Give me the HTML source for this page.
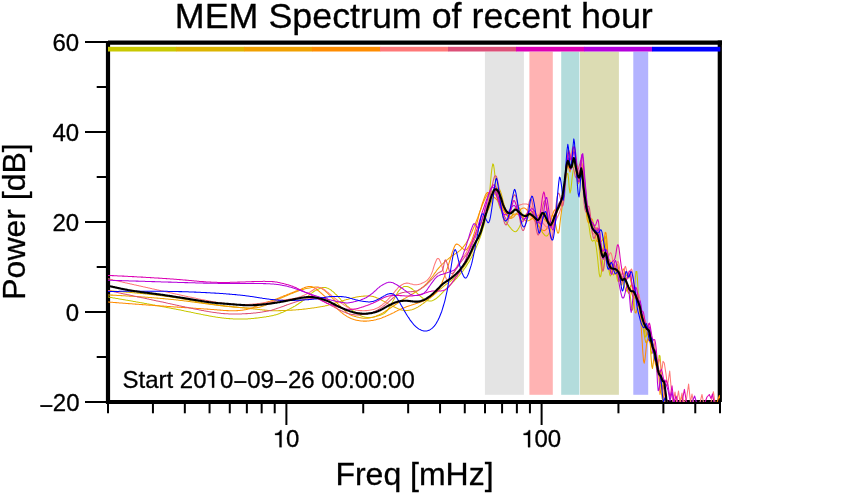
<!DOCTYPE html>
<html><head><meta charset="utf-8"><title>MEM Spectrum of recent hour</title>
<style>
html,body{margin:0;padding:0;background:#fff;}
body{width:842px;height:500px;overflow:hidden;font-family:"Liberation Sans",sans-serif;}
svg{display:block;will-change:transform;}
text{font-family:"Liberation Sans",sans-serif;fill:#000;stroke:#000;stroke-width:0.3px;}
</style></head><body>
<svg width="842" height="500" viewBox="0 0 842 500">
<rect x="0" y="0" width="842" height="500" fill="#fff"/>
<defs><clipPath id="cp"><rect x="108" y="42" width="612" height="360"/></clipPath></defs>
<g><rect x="484.90" y="51.6" width="39.00" height="343.2" fill="#e4e4e4"/><rect x="529.40" y="51.6" width="23.40" height="343.2" fill="#ffb3b3"/><rect x="561.20" y="51.6" width="18.20" height="343.2" fill="#b3dcdc"/><rect x="580.00" y="51.6" width="38.90" height="343.2" fill="#dcdcb3"/><rect x="633.30" y="51.6" width="14.90" height="343.2" fill="#b3b3ff"/></g>
<g stroke="#000" stroke-width="4.2" fill="none"><line x1="108" y1="41.2" x2="108" y2="403.9"/><line x1="108" y1="42.6" x2="722" y2="42.6"/><line x1="719.8" y1="40.5" x2="719.8" y2="402"/><line x1="108" y1="402" x2="720" y2="402" stroke-width="4"/></g>
<g stroke="#000" stroke-width="2" fill="none"><line x1="85.0" y1="402.00" x2="108" y2="402.00"/><line x1="96.7" y1="357.00" x2="108" y2="357.00"/><line x1="85.0" y1="312.00" x2="108" y2="312.00"/><line x1="96.7" y1="267.00" x2="108" y2="267.00"/><line x1="85.0" y1="222.00" x2="108" y2="222.00"/><line x1="96.7" y1="177.00" x2="108" y2="177.00"/><line x1="85.0" y1="132.00" x2="108" y2="132.00"/><line x1="96.7" y1="87.00" x2="108" y2="87.00"/><line x1="85.0" y1="42.00" x2="108" y2="42.00"/><line x1="108.00" y1="402" x2="108.00" y2="413.3"/><line x1="152.94" y1="402" x2="152.94" y2="413.3"/><line x1="184.83" y1="402" x2="184.83" y2="413.3"/><line x1="209.56" y1="402" x2="209.56" y2="413.3"/><line x1="229.77" y1="402" x2="229.77" y2="413.3"/><line x1="246.86" y1="402" x2="246.86" y2="413.3"/><line x1="261.66" y1="402" x2="261.66" y2="413.3"/><line x1="274.71" y1="402" x2="274.71" y2="413.3"/><line x1="286.39" y1="402" x2="286.39" y2="425.0"/><line x1="363.22" y1="402" x2="363.22" y2="413.3"/><line x1="408.16" y1="402" x2="408.16" y2="413.3"/><line x1="440.05" y1="402" x2="440.05" y2="413.3"/><line x1="464.78" y1="402" x2="464.78" y2="413.3"/><line x1="484.99" y1="402" x2="484.99" y2="413.3"/><line x1="502.08" y1="402" x2="502.08" y2="413.3"/><line x1="516.88" y1="402" x2="516.88" y2="413.3"/><line x1="529.93" y1="402" x2="529.93" y2="413.3"/><line x1="541.61" y1="402" x2="541.61" y2="425.0"/><line x1="618.44" y1="402" x2="618.44" y2="413.3"/><line x1="663.38" y1="402" x2="663.38" y2="413.3"/><line x1="695.27" y1="402" x2="695.27" y2="413.3"/><line x1="720.00" y1="402" x2="720.00" y2="413.3"/></g>
<g><rect x="108.00" y="46.8" width="68.30" height="4.7" fill="#c8c800"/><rect x="176.00" y="46.8" width="68.30" height="4.7" fill="#dcb400"/><rect x="244.00" y="46.8" width="68.30" height="4.7" fill="#f0a000"/><rect x="312.00" y="46.8" width="68.30" height="4.7" fill="#ff8c00"/><rect x="380.00" y="46.8" width="68.30" height="4.7" fill="#ff7878"/><rect x="448.00" y="46.8" width="68.30" height="4.7" fill="#dc5078"/><rect x="516.00" y="46.8" width="68.30" height="4.7" fill="#dc00b4"/><rect x="584.00" y="46.8" width="68.30" height="4.7" fill="#b400dc"/><rect x="652.00" y="46.8" width="68.30" height="4.7" fill="#0000ff"/></g>
<g clip-path="url(#cp)" fill="none" stroke-linejoin="round" stroke-linecap="round">
<path d="M108.0 297.0L108.8 297.1L109.5 297.3L110.2 297.4L111.0 297.5L111.8 297.6L112.5 297.8L113.2 297.9L114.0 298.0L114.8 298.1L115.5 298.3L116.2 298.4L117.0 298.5L117.8 298.6L118.5 298.8L119.2 298.9L120.0 299.0L120.8 299.2L121.5 299.3L122.2 299.4L123.0 299.5L123.8 299.7L124.5 299.8L125.2 299.9L126.0 300.1L126.8 300.2L127.5 300.3L128.2 300.5L129.0 300.6L129.8 300.7L130.5 300.8L131.2 301.0L132.0 301.1L132.8 301.2L133.5 301.4L134.2 301.5L135.0 301.6L135.8 301.8L136.5 301.9L137.2 302.0L138.0 302.2L138.8 302.3L139.5 302.4L140.2 302.6L141.0 302.7L141.8 302.8L142.5 303.0L143.2 303.1L144.0 303.2L144.8 303.4L145.5 303.5L146.2 303.6L147.0 303.8L147.8 303.9L148.5 304.0L149.2 304.2L150.0 304.3L150.8 304.4L151.5 304.6L152.2 304.7L153.0 304.9L153.8 305.0L154.5 305.1L155.2 305.3L156.0 305.4L156.8 305.6L157.5 305.7L158.2 305.8L159.0 306.0L159.8 306.1L160.5 306.2L161.2 306.4L162.0 306.5L162.8 306.7L163.5 306.8L164.2 307.0L165.0 307.1L165.8 307.2L166.5 307.4L167.2 307.5L168.0 307.7L168.8 307.8L169.5 307.9L170.2 308.1L171.0 308.2L171.8 308.4L172.5 308.5L173.2 308.7L174.0 308.8L174.8 309.0L175.5 309.1L176.2 309.2L177.0 309.4L177.8 309.5L178.5 309.7L179.2 309.8L180.0 310.0L180.8 310.1L181.5 310.3L182.2 310.4L183.0 310.6L183.8 310.8L184.5 310.9L185.2 311.1L186.0 311.2L186.8 311.4L187.5 311.5L188.2 311.7L189.0 311.8L189.8 312.0L190.5 312.1L191.2 312.3L192.0 312.5L192.8 312.6L193.5 312.8L194.2 312.9L195.0 313.1L195.8 313.2L196.5 313.4L197.2 313.5L198.0 313.7L198.8 313.8L199.5 314.0L200.2 314.1L201.0 314.3L201.8 314.4L202.5 314.6L203.2 314.7L204.0 314.9L204.8 315.0L205.5 315.2L206.2 315.3L207.0 315.5L207.8 315.6L208.5 315.7L209.2 315.9L210.0 316.0L210.8 316.2L211.5 316.3L212.2 316.4L213.0 316.6L213.8 316.7L214.5 316.8L215.2 316.9L216.0 317.1L216.8 317.2L217.5 317.3L218.2 317.4L219.0 317.5L219.8 317.6L220.5 317.7L221.2 317.8L222.0 317.9L222.8 318.0L223.5 318.1L224.2 318.2L225.0 318.3L225.8 318.3L226.5 318.4L227.2 318.5L228.0 318.5L228.8 318.6L229.5 318.6L230.2 318.7L231.0 318.7L231.8 318.8L232.5 318.8L233.2 318.9L234.0 318.9L234.8 318.9L235.5 319.0L236.2 319.0L237.0 319.0L237.8 319.0L238.5 319.0L239.2 319.0L240.0 319.0L240.8 319.0L241.5 319.0L242.2 319.0L243.0 319.0L243.8 319.0L244.5 319.0L245.2 318.9L246.0 318.9L246.8 318.9L247.5 318.9L248.2 318.8L249.0 318.8L249.8 318.7L250.5 318.7L251.2 318.6L252.0 318.5L252.8 318.5L253.5 318.4L254.2 318.3L255.0 318.2L255.8 318.1L256.5 318.1L257.2 318.0L258.0 317.9L258.8 317.8L259.5 317.7L260.2 317.6L261.0 317.5L261.8 317.4L262.5 317.3L263.2 317.2L264.0 317.1L264.8 317.0L265.5 316.9L266.2 316.8L267.0 316.6L267.8 316.5L268.5 316.4L269.2 316.3L270.0 316.1L270.8 316.0L271.5 315.8L272.2 315.7L273.0 315.5L273.8 315.3L274.5 315.1L275.2 314.9L276.0 314.7L276.8 314.5L277.5 314.2L278.2 314.0L279.0 313.7L279.8 313.4L280.5 313.1L281.2 312.8L282.0 312.5L282.8 312.2L283.5 311.9L284.2 311.5L285.0 311.2L285.8 310.8L286.5 310.5L287.2 310.1L288.0 309.7L288.8 309.4L289.5 309.0L290.2 308.6L291.0 308.2L291.8 307.8L292.5 307.4L293.2 307.0L294.0 306.5L294.8 306.1L295.5 305.7L296.2 305.2L297.0 304.7L297.8 304.3L298.5 303.8L299.2 303.3L300.0 302.8L300.8 302.3L301.5 301.7L302.2 301.2L303.0 300.6L303.8 300.0L304.5 299.4L305.2 298.7L306.0 298.1L306.8 297.4L307.5 296.7L308.2 296.0L309.0 295.3L309.8 294.7L310.5 294.1L311.2 293.4L312.0 292.9L312.8 292.3L313.5 291.8L314.2 291.3L315.0 290.8L315.8 290.4L316.5 290.0L317.2 289.6L318.0 289.3L318.8 288.9L319.5 288.6L320.2 288.3L321.0 288.0L321.8 287.8L322.5 287.6L323.2 287.5L324.0 287.5L324.8 287.5L325.5 287.6L326.2 287.7L327.0 288.0L327.8 288.2L328.5 288.6L329.2 289.0L330.0 289.4L330.8 289.9L331.5 290.5L332.2 291.1L333.0 291.7L333.8 292.4L334.5 293.0L335.2 293.8L336.0 294.5L336.8 295.2L337.5 296.0L338.2 296.8L339.0 297.6L339.8 298.4L340.5 299.3L341.2 300.1L342.0 300.9L342.8 301.7L343.5 302.5L344.2 303.2L345.0 304.0L345.8 304.7L346.5 305.4L347.2 306.1L348.0 306.7L348.8 307.4L349.5 308.0L350.2 308.6L351.0 309.2L351.8 309.8L352.5 310.4L353.2 311.0L354.0 311.5L354.8 312.1L355.5 312.6L356.2 313.1L357.0 313.6L357.8 314.1L358.5 314.5L359.2 314.9L360.0 315.3L360.8 315.7L361.5 316.0L362.2 316.3L363.0 316.6L363.8 316.8L364.5 317.0L365.2 317.2L366.0 317.3L366.8 317.4L367.5 317.5L368.2 317.5L369.0 317.5L369.8 317.5L370.5 317.5L371.2 317.4L372.0 317.3L372.8 317.2L373.5 317.1L374.2 316.9L375.0 316.7L375.8 316.5L376.5 316.3L377.2 316.1L378.0 315.9L378.8 315.6L379.5 315.4L380.2 315.2L381.0 314.9L381.8 314.6L382.5 314.3L383.2 314.0L384.0 313.6L384.8 313.0L385.5 312.4L386.2 311.7L387.0 310.9L387.8 309.9L388.5 308.8L389.2 307.6L390.0 306.4L390.8 305.1L391.5 303.7L392.2 302.4L393.0 301.0L393.8 299.6L394.5 298.2L395.2 296.8L396.0 295.4L396.8 294.1L397.5 292.8L398.2 291.6L399.0 290.5L399.8 289.6L400.5 288.8L401.2 288.1L402.0 287.5L402.8 287.1L403.5 286.7L404.2 286.5L405.0 286.4L405.8 286.4L406.5 286.5L407.2 286.6L408.0 286.8L408.8 287.1L409.5 287.4L410.2 287.8L411.0 288.2L411.8 288.7L412.5 289.2L413.2 289.8L414.0 290.4L414.8 291.0L415.5 291.7L416.2 292.4L417.0 293.1L417.8 293.8L418.5 294.5L419.2 295.2L420.0 295.9L420.8 296.6L421.5 297.2L422.2 297.8L423.0 298.3L423.8 298.9L424.5 299.3L425.2 299.7L426.0 300.1L426.8 300.4L427.5 300.7L428.2 300.8L429.0 301.0L429.8 301.0L430.5 301.0L431.2 300.9L432.0 300.7L432.8 300.4L433.5 300.1L434.2 299.8L435.0 299.3L435.8 298.8L436.5 298.3L437.2 297.7L438.0 297.0L438.8 296.3L439.5 295.6L440.2 294.8L441.0 294.1L441.8 293.3L442.5 292.6L443.2 291.8L444.0 291.0L444.8 290.3L445.5 289.5L446.2 288.7L447.0 288.0L447.8 287.2L448.5 286.5L449.2 285.7L450.0 285.0L450.8 284.2L451.5 283.5L452.2 282.8L453.0 282.0L453.8 281.3L454.5 280.5L455.2 279.7L456.0 278.9L456.8 278.1L457.5 277.3L458.2 276.4L459.0 275.6L459.8 274.7L460.5 273.8L461.2 272.9L462.0 272.0L462.8 271.1L463.5 270.1L464.2 269.0L465.0 268.0L465.8 266.9L466.5 265.7L467.2 264.6L468.0 263.3L468.8 262.1L469.5 260.9L470.2 259.6L471.0 258.2L471.8 256.8L472.5 255.3L473.2 253.8L474.0 252.2L474.8 250.6L475.5 248.9L476.2 247.2L477.0 245.4L477.8 243.6L478.5 241.8L479.2 239.8L480.0 237.7L480.8 235.5L481.5 233.2L482.2 230.8L483.0 228.4L483.8 225.9L484.5 223.2L485.2 220.2L486.0 216.7L486.8 212.8L487.5 208.3L488.2 203.2L489.0 197.4L489.8 190.4L490.5 182.4L491.2 174.6L492.0 168.0L492.8 163.9L493.5 164.6L494.2 169.2L495.0 175.9L495.8 184.0L496.5 191.9L497.2 197.6L498.0 201.6L498.8 204.5L499.5 206.7L500.2 208.6L501.0 210.5L501.8 212.4L502.5 214.4L503.2 216.2L504.0 217.9L504.8 219.5L505.5 220.9L506.2 222.2L507.0 223.3L507.8 224.4L508.5 225.4L509.2 226.4L510.0 227.3L510.8 228.2L511.5 229.1L512.2 229.9L513.0 230.6L513.8 231.2L514.5 231.6L515.2 231.7L516.0 231.5L516.8 231.0L517.5 230.1L518.2 229.0L519.0 227.7L519.8 226.2L520.5 224.5L521.2 222.5L522.0 220.5L522.8 218.5L523.5 216.9L524.2 215.6L525.0 214.8L525.8 214.2L526.5 214.0L527.2 213.9L528.0 214.0L528.8 214.2L529.5 214.4L530.2 214.8L531.0 215.2L531.8 215.7L532.5 216.3L533.2 217.1L534.0 218.0L534.8 219.0L535.5 220.2L536.2 221.4L537.0 222.7L537.8 224.0L538.5 225.3L539.2 226.7L540.0 228.0L540.8 229.3L541.5 230.7L542.2 231.9L543.0 233.1L543.8 234.1L544.5 235.0L545.2 235.6L546.0 236.0L546.8 236.0L547.5 235.5L548.2 234.5L549.0 233.3L549.8 231.7L550.5 229.9L551.2 228.0L552.0 226.0L552.8 223.9L553.5 221.7L554.2 219.5L555.0 217.3L555.8 215.2L556.5 213.2L557.2 211.5L558.0 210.1L558.8 208.8L559.5 207.6L560.2 206.0L561.0 204.0L561.8 201.3L562.5 197.9L563.2 194.1L564.0 190.0L564.8 185.6L565.5 181.0L566.2 176.6L567.0 173.7L567.8 173.4L568.5 177.9L569.2 187.6L570.0 193.0L570.8 190.3L571.5 184.1L572.2 177.0L573.0 171.5L573.8 167.4L574.5 165.2L575.2 165.4L576.0 169.2L576.8 174.7L577.5 179.5L578.2 181.1L579.0 178.9L579.8 175.2L580.5 172.3L581.2 172.5L582.0 175.9L582.8 182.0L583.5 189.9L584.0 196.0L585.0 202.7L585.8 207.0L586.5 211.1L587.2 215.0L588.0 219.3L588.8 224.3L589.5 229.5L590.2 234.4L591.0 238.2L591.8 240.5L592.5 241.2L593.2 240.8L594.0 240.1L594.8 240.3L595.5 242.4L596.2 246.8L597.0 252.9L597.8 260.2L598.5 267.5L599.2 273.8L600.0 276.9L600.8 276.1L601.5 271.9L602.2 265.0L603.0 256.6L603.8 247.5L604.5 239.6L605.2 236.1L606.0 238.8L606.8 246.0L607.5 255.3L608.2 264.0L609.0 270.8L609.8 274.9L610.5 276.0L611.2 274.4L612.0 271.1L612.8 267.5L613.5 264.9L614.2 264.5L615.0 266.4L615.8 270.3L616.5 275.0L617.2 279.1L618.0 281.4L618.8 281.5L619.5 279.8L620.2 277.7L621.0 276.2L621.8 276.1L622.5 277.6L623.2 280.3L624.0 284.0L624.8 287.6L625.5 290.4L626.2 291.1L627.0 289.9L627.8 288.0L628.5 287.1L629.2 288.8L630.0 293.7L630.8 300.5L631.5 307.0L632.2 310.3L633.0 308.8L633.8 302.0L634.5 291.2L635.2 279.4L636.0 271.4L636.8 271.4L637.5 279.9L638.2 293.0L639.0 304.9L639.8 312.0L640.5 314.1L641.2 314.1L642.0 314.3L642.8 316.8L643.5 322.3L644.2 329.2L645.0 335.0L645.8 337.3L646.5 335.5L647.2 331.4L648.0 327.5L648.8 327.5L649.5 332.9L650.2 342.0L651.0 350.1L651.8 353.8L652.5 352.8L653.2 349.6L654.0 347.6L654.8 350.4L655.5 358.1L656.2 366.9L657.0 371.7L657.8 369.7L658.5 362.1L659.2 355.3L660.0 356.0L660.8 365.2L661.5 378.1L662.2 387.6L663.0 389.2L663.8 384.6L664.5 382.3L665.2 386.9L666.0 398.4L666.8 410.2L667.5 419.1L668.2 422.6L669.0 422.7L669.8 424.4L670.5 431.4L671.2 442.9L672.0 454.2" stroke="#c8c800" stroke-width="1.05"/>
<path d="M108.0 290.7L108.8 290.8L109.5 290.8L110.2 290.9L111.0 290.9L111.8 291.0L112.5 291.0L113.2 291.1L114.0 291.1L114.8 291.2L115.5 291.2L116.2 291.3L117.0 291.4L117.8 291.4L118.5 291.5L119.2 291.5L120.0 291.6L120.8 291.6L121.5 291.7L122.2 291.8L123.0 291.8L123.8 291.9L124.5 291.9L125.2 292.0L126.0 292.1L126.8 292.1L127.5 292.2L128.2 292.3L129.0 292.3L129.8 292.4L130.5 292.5L131.2 292.5L132.0 292.6L132.8 292.7L133.5 292.7L134.2 292.8L135.0 292.9L135.8 292.9L136.5 293.0L137.2 293.1L138.0 293.1L138.8 293.2L139.5 293.3L140.2 293.4L141.0 293.4L141.8 293.5L142.5 293.6L143.2 293.7L144.0 293.7L144.8 293.8L145.5 293.9L146.2 294.0L147.0 294.1L147.8 294.1L148.5 294.2L149.2 294.3L150.0 294.4L150.8 294.5L151.5 294.5L152.2 294.6L153.0 294.7L153.8 294.8L154.5 294.9L155.2 295.0L156.0 295.1L156.8 295.2L157.5 295.3L158.2 295.3L159.0 295.4L159.8 295.5L160.5 295.6L161.2 295.7L162.0 295.8L162.8 295.9L163.5 296.0L164.2 296.1L165.0 296.2L165.8 296.3L166.5 296.4L167.2 296.5L168.0 296.6L168.8 296.7L169.5 296.8L170.2 296.9L171.0 297.1L171.8 297.2L172.5 297.3L173.2 297.4L174.0 297.5L174.8 297.6L175.5 297.7L176.2 297.8L177.0 298.0L177.8 298.1L178.5 298.2L179.2 298.3L180.0 298.5L180.8 298.6L181.5 298.7L182.2 298.9L183.0 299.0L183.8 299.1L184.5 299.3L185.2 299.4L186.0 299.5L186.8 299.7L187.5 299.8L188.2 300.0L189.0 300.1L189.8 300.3L190.5 300.4L191.2 300.6L192.0 300.7L192.8 300.9L193.5 301.0L194.2 301.1L195.0 301.3L195.8 301.4L196.5 301.6L197.2 301.7L198.0 301.9L198.8 302.0L199.5 302.2L200.2 302.3L201.0 302.4L201.8 302.6L202.5 302.7L203.2 302.9L204.0 303.0L204.8 303.1L205.5 303.3L206.2 303.4L207.0 303.5L207.8 303.6L208.5 303.8L209.2 303.9L210.0 304.0L210.8 304.1L211.5 304.2L212.2 304.3L213.0 304.4L213.8 304.5L214.5 304.6L215.2 304.7L216.0 304.8L216.8 304.9L217.5 305.0L218.2 305.1L219.0 305.2L219.8 305.3L220.5 305.4L221.2 305.4L222.0 305.5L222.8 305.6L223.5 305.7L224.2 305.8L225.0 305.9L225.8 305.9L226.5 306.0L227.2 306.1L228.0 306.2L228.8 306.3L229.5 306.3L230.2 306.4L231.0 306.5L231.8 306.6L232.5 306.7L233.2 306.7L234.0 306.8L234.8 306.9L235.5 307.0L236.2 307.0L237.0 307.1L237.8 307.2L238.5 307.3L239.2 307.4L240.0 307.4L240.8 307.5L241.5 307.6L242.2 307.7L243.0 307.7L243.8 307.8L244.5 307.9L245.2 308.0L246.0 308.1L246.8 308.1L247.5 308.2L248.2 308.3L249.0 308.4L249.8 308.5L250.5 308.6L251.2 308.6L252.0 308.7L252.8 308.8L253.5 308.9L254.2 309.0L255.0 309.1L255.8 309.2L256.5 309.2L257.2 309.3L258.0 309.4L258.8 309.5L259.5 309.6L260.2 309.7L261.0 309.8L261.8 309.8L262.5 309.9L263.2 310.0L264.0 310.1L264.8 310.1L265.5 310.2L266.2 310.3L267.0 310.3L267.8 310.4L268.5 310.5L269.2 310.5L270.0 310.6L270.8 310.6L271.5 310.6L272.2 310.7L273.0 310.7L273.8 310.7L274.5 310.7L275.2 310.7L276.0 310.7L276.8 310.7L277.5 310.7L278.2 310.7L279.0 310.6L279.8 310.6L280.5 310.6L281.2 310.6L282.0 310.5L282.8 310.5L283.5 310.5L284.2 310.5L285.0 310.4L285.8 310.4L286.5 310.4L287.2 310.3L288.0 310.3L288.8 310.3L289.5 310.2L290.2 310.2L291.0 310.2L291.8 310.1L292.5 310.1L293.2 310.0L294.0 310.0L294.8 309.9L295.5 309.9L296.2 309.8L297.0 309.8L297.8 309.7L298.5 309.6L299.2 309.6L300.0 309.5L300.8 309.4L301.5 309.4L302.2 309.3L303.0 309.2L303.8 309.1L304.5 309.1L305.2 309.0L306.0 308.9L306.8 308.8L307.5 308.7L308.2 308.6L309.0 308.5L309.8 308.4L310.5 308.3L311.2 308.2L312.0 308.1L312.8 308.0L313.5 307.9L314.2 307.8L315.0 307.7L315.8 307.6L316.5 307.4L317.2 307.3L318.0 307.2L318.8 307.1L319.5 307.0L320.2 306.8L321.0 306.7L321.8 306.6L322.5 306.4L323.2 306.3L324.0 306.2L324.8 306.0L325.5 305.8L326.2 305.7L327.0 305.5L327.8 305.3L328.5 305.0L329.2 304.8L330.0 304.6L330.8 304.4L331.5 304.2L332.2 303.9L333.0 303.7L333.8 303.5L334.5 303.2L335.2 303.0L336.0 302.8L336.8 302.5L337.5 302.3L338.2 302.1L339.0 301.8L339.8 301.6L340.5 301.4L341.2 301.2L342.0 300.9L342.8 300.7L343.5 300.5L344.2 300.3L345.0 300.0L345.8 299.8L346.5 299.6L347.2 299.4L348.0 299.2L348.8 298.9L349.5 298.7L350.2 298.5L351.0 298.3L351.8 298.2L352.5 298.0L353.2 297.8L354.0 297.6L354.8 297.5L355.5 297.3L356.2 297.1L357.0 297.0L357.8 296.8L358.5 296.7L359.2 296.6L360.0 296.5L360.8 296.4L361.5 296.3L362.2 296.2L363.0 296.2L363.8 296.1L364.5 296.1L365.2 296.0L366.0 296.0L366.8 296.0L367.5 296.0L368.2 296.0L369.0 296.0L369.8 296.0L370.5 296.1L371.2 296.2L372.0 296.3L372.8 296.5L373.5 296.6L374.2 296.9L375.0 297.1L375.8 297.4L376.5 297.7L377.2 298.0L378.0 298.3L378.8 298.6L379.5 299.0L380.2 299.4L381.0 299.8L381.8 300.2L382.5 300.6L383.2 301.0L384.0 301.4L384.8 301.9L385.5 302.3L386.2 302.7L387.0 303.1L387.8 303.6L388.5 304.0L389.2 304.4L390.0 304.8L390.8 305.2L391.5 305.5L392.2 305.9L393.0 306.3L393.8 306.7L394.5 307.1L395.2 307.4L396.0 307.8L396.8 308.1L397.5 308.5L398.2 308.8L399.0 309.1L399.8 309.4L400.5 309.7L401.2 309.9L402.0 310.1L402.8 310.2L403.5 310.3L404.2 310.4L405.0 310.5L405.8 310.5L406.5 310.5L407.2 310.4L408.0 310.4L408.8 310.3L409.5 310.2L410.2 310.0L411.0 309.9L411.8 309.7L412.5 309.5L413.2 309.2L414.0 308.9L414.8 308.6L415.5 308.3L416.2 307.9L417.0 307.5L417.8 307.1L418.5 306.6L419.2 306.1L420.0 305.7L420.8 305.2L421.5 304.6L422.2 304.1L423.0 303.6L423.8 303.0L424.5 302.5L425.2 301.9L426.0 301.3L426.8 300.7L427.5 300.1L428.2 299.5L429.0 298.9L429.8 298.3L430.5 297.6L431.2 297.0L432.0 296.4L432.8 295.8L433.5 295.1L434.2 294.5L435.0 293.9L435.8 293.2L436.5 292.6L437.2 291.9L438.0 291.2L438.8 290.6L439.5 289.9L440.2 289.2L441.0 288.6L441.8 287.9L442.5 287.3L443.2 286.6L444.0 286.0L444.8 285.4L445.5 284.8L446.2 284.3L447.0 283.7L447.8 283.2L448.5 282.6L449.2 282.1L450.0 281.5L450.8 281.0L451.5 280.4L452.2 279.8L453.0 279.2L453.8 278.5L454.5 277.8L455.2 277.1L456.0 276.3L456.8 275.6L457.5 274.8L458.2 274.0L459.0 273.1L459.8 272.3L460.5 271.4L461.2 270.5L462.0 269.5L462.8 268.5L463.5 267.5L464.2 266.4L465.0 265.3L465.8 264.1L466.5 262.8L467.2 261.6L468.0 260.2L468.8 258.8L469.5 257.4L470.2 255.9L471.0 254.3L471.8 252.7L472.5 251.1L473.0 250.0L474.0 247.8L474.8 246.1L475.5 244.3L476.2 242.5L477.0 240.5L477.8 238.5L478.5 236.3L479.2 234.0L480.0 231.6L480.8 229.2L481.5 226.6L482.2 224.0L483.0 221.5L483.8 219.1L484.5 217.0L485.2 215.2L486.0 213.8L486.8 212.5L487.5 211.2L488.2 209.8L489.0 208.2L489.8 206.5L490.5 204.5L491.2 202.3L492.0 200.0L492.8 197.6L493.5 195.2L494.2 193.0L495.0 191.3L495.8 189.9L496.5 188.9L497.2 188.3L498.0 188.1L498.8 188.5L499.5 189.3L500.2 190.8L501.0 193.0L501.8 195.6L502.5 198.5L503.2 201.4L504.0 204.3L504.8 207.1L505.5 209.8L506.2 212.2L507.0 214.3L507.8 216.1L508.5 217.4L509.2 218.2L510.0 218.4L510.8 218.0L511.5 217.0L512.2 215.5L513.0 213.5L513.8 211.4L514.5 209.4L515.2 207.8L516.0 206.7L516.8 206.1L517.5 206.1L518.2 206.6L519.0 207.6L519.8 208.9L520.5 210.5L521.2 212.4L522.0 214.4L522.8 216.2L523.5 217.9L524.2 219.2L525.0 220.1L525.8 220.5L526.5 220.3L527.2 219.3L528.0 217.8L528.8 216.0L529.5 214.3L530.2 213.0L531.0 212.1L531.8 211.6L532.5 211.5L533.2 211.9L534.0 213.0L534.8 214.5L535.5 216.3L536.2 218.3L537.0 220.3L537.8 221.9L538.5 222.9L539.2 222.6L540.0 221.3L540.8 219.3L541.5 217.0L542.2 214.9L543.0 213.5L543.8 212.9L544.5 212.7L545.2 213.1L546.0 214.1L546.8 215.7L547.5 217.8L548.2 220.3L549.0 222.9L549.8 225.3L550.5 227.0L551.2 227.4L552.0 226.6L552.8 224.8L553.5 222.3L554.2 219.4L555.0 216.2L555.8 212.9L556.5 209.8L557.2 207.1L558.0 204.9L558.8 203.4L559.5 202.5L560.2 201.9L561.0 201.4L561.8 200.4L562.5 198.3L563.2 194.4L564.0 189.0L564.8 182.6L565.5 175.3L566.2 168.1L567.0 161.9L567.8 158.4L568.5 159.0L569.2 162.0L570.0 164.9L570.8 166.7L571.5 167.5L572.2 166.7L573.0 163.3L573.8 160.6L574.5 161.8L575.2 165.0L576.0 168.2L576.8 170.4L577.5 172.4L578.2 174.3L579.0 175.4L579.8 175.1L580.5 171.6L581.2 169.2L582.0 173.5L582.8 181.7L583.5 188.5L584.2 193.9L585.0 198.2L585.8 202.3L586.5 206.1L587.2 209.2L588.0 212.2L588.8 215.5L589.5 219.0L590.2 222.5L591.0 225.6L591.8 227.9L592.5 229.3L593.2 230.0L594.0 230.5L594.8 231.0L595.5 231.8L596.2 232.8L597.0 234.5L597.8 237.4L598.5 242.2L599.2 249.2L600.0 256.9L600.8 263.9L601.5 269.0L602.2 271.1L603.0 270.2L603.8 266.0L604.5 260.6L605.2 256.7L606.0 256.4L606.8 258.5L607.5 261.2L608.2 263.5L609.0 265.3L609.8 266.8L610.5 268.1L611.2 269.0L612.0 269.7L612.8 270.0L613.5 270.0L614.2 269.8L615.0 269.8L615.8 270.0L616.5 270.6L617.2 271.5L618.0 272.8L618.8 274.1L619.5 275.6L620.2 277.4L621.0 279.0L621.8 280.3L622.5 280.8L623.2 280.3L624.0 279.3L624.8 278.2L625.5 277.1L626.2 275.8L627.0 274.4L627.8 273.3L628.5 273.3L629.2 274.8L630.0 277.7L630.8 281.2L631.5 284.3L632.2 286.6L633.0 288.3L633.8 290.2L634.5 292.9L635.2 295.9L636.0 298.5L636.8 300.5L637.5 301.7L638.2 302.7L639.0 304.5L639.8 307.5L640.5 312.0L641.2 317.4L642.0 322.3L642.8 326.5L643.5 330.6L644.2 335.0L645.0 339.3L645.8 342.4L646.5 343.0L647.2 340.9L648.0 337.0L648.8 334.0L649.5 334.5L650.2 338.5L651.0 343.5L651.8 346.9L652.5 348.5L653.2 348.9L654.0 349.9L654.8 353.2L655.5 358.6L656.2 363.8L657.0 367.4L657.8 369.9L658.5 372.2L659.2 375.9L660.0 381.6L660.8 388.0L661.5 394.2L662.2 398.9L663.0 400.7L663.8 400.2L664.5 400.6L665.2 401.7L666.0 403.2L666.8 404.2L667.5 408.6L668.2 416.4L669.0 424.7L669.8 430.4L670.5 433.7L671.2 437.7L672.0 444.9" stroke="#dcb400" stroke-width="1.05"/>
<path d="M108.0 294.9L108.8 294.9L109.5 295.0L110.2 295.0L111.0 295.1L111.8 295.1L112.5 295.1L113.2 295.2L114.0 295.2L114.8 295.2L115.5 295.3L116.2 295.3L117.0 295.4L117.8 295.4L118.5 295.4L119.2 295.5L120.0 295.5L120.8 295.6L121.5 295.6L122.2 295.7L123.0 295.7L123.8 295.7L124.5 295.8L125.2 295.8L126.0 295.9L126.8 295.9L127.5 296.0L128.2 296.0L129.0 296.1L129.8 296.1L130.5 296.1L131.2 296.2L132.0 296.2L132.8 296.3L133.5 296.3L134.2 296.4L135.0 296.4L135.8 296.5L136.5 296.5L137.2 296.6L138.0 296.6L138.8 296.7L139.5 296.7L140.2 296.8L141.0 296.8L141.8 296.9L142.5 296.9L143.2 297.0L144.0 297.0L144.8 297.1L145.5 297.2L146.2 297.2L147.0 297.3L147.8 297.3L148.5 297.4L149.2 297.4L150.0 297.5L150.8 297.6L151.5 297.6L152.2 297.7L153.0 297.7L153.8 297.8L154.5 297.9L155.2 297.9L156.0 298.0L156.8 298.1L157.5 298.1L158.2 298.2L159.0 298.2L159.8 298.3L160.5 298.4L161.2 298.4L162.0 298.5L162.8 298.6L163.5 298.6L164.2 298.7L165.0 298.8L165.8 298.9L166.5 298.9L167.2 299.0L168.0 299.1L168.8 299.2L169.5 299.2L170.2 299.3L171.0 299.4L171.8 299.5L172.5 299.5L173.2 299.6L174.0 299.7L174.8 299.8L175.5 299.8L176.2 299.9L177.0 300.0L177.8 300.1L178.5 300.2L179.2 300.3L180.0 300.4L180.8 300.4L181.5 300.5L182.2 300.6L183.0 300.7L183.8 300.8L184.5 300.9L185.2 301.0L186.0 301.1L186.8 301.2L187.5 301.3L188.2 301.4L189.0 301.5L189.8 301.6L190.5 301.7L191.2 301.8L192.0 301.9L192.8 302.0L193.5 302.1L194.2 302.2L195.0 302.3L195.8 302.4L196.5 302.5L197.2 302.6L198.0 302.7L198.8 302.8L199.5 302.9L200.2 303.0L201.0 303.1L201.8 303.2L202.5 303.3L203.2 303.4L204.0 303.5L204.8 303.6L205.5 303.7L206.2 303.8L207.0 303.9L207.8 304.0L208.5 304.1L209.2 304.2L210.0 304.3L210.8 304.4L211.5 304.5L212.2 304.6L213.0 304.7L213.8 304.8L214.5 304.9L215.2 305.0L216.0 305.1L216.8 305.2L217.5 305.3L218.2 305.4L219.0 305.5L219.8 305.6L220.5 305.7L221.2 305.8L222.0 305.9L222.8 306.0L223.5 306.1L224.2 306.1L225.0 306.2L225.8 306.3L226.5 306.4L227.2 306.5L228.0 306.5L228.8 306.6L229.5 306.7L230.2 306.8L231.0 306.8L231.8 306.9L232.5 307.0L233.2 307.1L234.0 307.1L234.8 307.2L235.5 307.2L236.2 307.3L237.0 307.4L237.8 307.4L238.5 307.5L239.2 307.5L240.0 307.6L240.8 307.6L241.5 307.7L242.2 307.7L243.0 307.7L243.8 307.8L244.5 307.8L245.2 307.9L246.0 307.9L246.8 307.9L247.5 307.9L248.2 308.0L249.0 308.0L249.8 308.0L250.5 308.0L251.2 308.0L252.0 308.0L252.8 308.0L253.5 307.9L254.2 307.9L255.0 307.8L255.8 307.8L256.5 307.7L257.2 307.6L258.0 307.5L258.8 307.3L259.5 307.2L260.2 307.0L261.0 306.8L261.8 306.6L262.5 306.3L263.2 306.1L264.0 305.8L264.8 305.5L265.5 305.1L266.2 304.8L267.0 304.4L267.8 304.1L268.5 303.7L269.2 303.3L270.0 302.9L270.8 302.5L271.5 302.1L272.2 301.7L273.0 301.4L273.8 301.0L274.5 300.7L275.2 300.4L276.0 300.0L276.8 299.7L277.5 299.4L278.2 299.1L279.0 298.8L279.8 298.5L280.5 298.2L281.2 297.9L282.0 297.6L282.8 297.3L283.5 297.0L284.2 296.7L285.0 296.3L285.8 296.0L286.5 295.7L287.2 295.4L288.0 295.1L288.8 294.8L289.5 294.5L290.2 294.1L291.0 293.8L291.8 293.5L292.5 293.2L293.2 292.9L294.0 292.6L294.8 292.3L295.5 292.0L296.2 291.7L297.0 291.4L297.8 291.1L298.5 290.9L299.2 290.6L300.0 290.3L300.8 290.1L301.5 289.8L302.2 289.6L303.0 289.4L303.8 289.2L304.5 289.0L305.2 288.8L306.0 288.6L306.8 288.5L307.5 288.3L308.2 288.2L309.0 288.0L309.8 287.9L310.5 287.8L311.2 287.6L312.0 287.5L312.8 287.4L313.5 287.3L314.2 287.2L315.0 287.0L315.8 287.0L316.5 286.9L317.2 286.9L318.0 287.0L318.8 287.2L319.5 287.4L320.2 287.7L321.0 288.1L321.8 288.5L322.5 289.0L323.2 289.5L324.0 290.1L324.8 290.7L325.5 291.3L326.2 292.0L327.0 292.7L327.8 293.4L328.5 294.2L329.2 294.9L330.0 295.7L330.8 296.4L331.5 297.2L332.2 297.9L333.0 298.7L333.8 299.4L334.5 300.2L335.2 301.0L336.0 301.8L336.8 302.5L337.5 303.3L338.2 304.1L339.0 304.9L339.8 305.7L340.5 306.4L341.2 307.2L342.0 308.0L342.8 308.7L343.5 309.5L344.2 310.2L345.0 310.9L345.8 311.6L346.5 312.2L347.2 312.9L348.0 313.4L348.8 313.9L349.5 314.4L350.2 314.7L351.0 315.1L351.8 315.4L352.5 315.7L353.2 315.9L354.0 316.1L354.8 316.4L355.5 316.6L356.2 316.8L357.0 317.0L357.8 317.2L358.5 317.3L359.2 317.5L360.0 317.7L360.8 317.8L361.5 318.0L362.2 318.1L363.0 318.2L363.8 318.2L364.5 318.3L365.2 318.3L366.0 318.3L366.8 318.3L367.5 318.2L368.2 318.2L369.0 318.1L369.8 317.9L370.5 317.8L371.2 317.6L372.0 317.5L372.8 317.3L373.5 317.0L374.2 316.8L375.0 316.5L375.8 316.2L376.5 315.9L377.2 315.6L378.0 315.3L378.8 315.0L379.5 314.6L380.2 314.3L381.0 313.9L381.8 313.5L382.5 313.1L383.2 312.7L384.0 312.2L384.8 311.8L385.5 311.3L386.2 310.8L387.0 310.3L387.8 309.8L388.5 309.3L389.2 308.8L390.0 308.3L390.8 307.8L391.5 307.3L392.2 306.7L393.0 306.2L393.8 305.7L394.5 305.2L395.2 304.7L396.0 304.2L396.8 303.7L397.5 303.2L398.2 302.7L399.0 302.2L399.8 301.7L400.5 301.2L401.2 300.8L402.0 300.3L402.8 299.8L403.5 299.3L404.2 298.8L405.0 298.4L405.8 297.9L406.5 297.5L407.2 297.0L408.0 296.6L408.8 296.1L409.5 295.7L410.2 295.2L411.0 294.8L411.8 294.3L412.5 293.9L413.2 293.5L414.0 293.0L414.8 292.5L415.5 292.1L416.2 291.6L417.0 291.1L417.8 290.7L418.5 290.2L419.2 289.7L420.0 289.1L420.8 288.6L421.5 288.0L422.2 287.4L423.0 286.8L423.8 286.2L424.5 285.6L425.2 284.9L426.0 284.1L426.8 283.3L427.5 282.5L428.2 281.7L429.0 280.8L429.8 279.9L430.5 278.9L431.2 278.0L432.0 277.0L432.8 276.0L433.5 275.0L434.2 273.9L435.0 272.8L435.8 271.8L436.5 270.7L437.2 269.7L438.0 268.8L438.8 267.9L439.5 267.1L440.2 266.2L441.0 265.5L441.8 264.7L442.5 264.0L443.2 263.3L444.0 262.6L444.8 261.9L445.5 261.2L446.2 260.6L447.0 259.9L447.8 259.3L448.5 258.7L449.2 258.1L450.0 257.5L450.8 256.9L451.5 256.4L452.2 255.8L453.0 255.3L453.8 254.8L454.5 254.3L455.2 253.9L456.0 253.4L456.8 252.9L457.5 252.4L458.2 251.8L459.0 251.2L459.8 250.6L460.5 249.9L461.2 249.1L462.0 248.4L462.8 247.5L463.5 246.6L464.2 245.7L465.0 244.7L465.8 243.6L466.5 242.4L467.2 241.2L468.0 239.9L468.8 238.5L469.5 237.0L470.2 235.5L471.0 233.9L471.8 232.2L472.5 230.5L473.2 228.8L474.0 227.0L474.8 225.1L475.5 223.3L476.2 221.4L477.0 219.4L477.8 217.4L478.5 215.4L479.2 213.4L480.0 211.3L480.8 209.3L481.5 207.3L482.2 205.4L483.0 203.5L483.8 201.6L484.5 199.9L485.2 198.3L486.0 196.8L486.8 195.4L487.5 194.2L488.2 193.3L489.0 192.6L489.8 192.1L490.5 191.9L491.2 191.8L492.0 192.0L492.8 192.3L493.5 192.8L494.2 193.4L495.0 194.2L495.8 195.1L496.5 196.2L497.2 197.4L498.0 198.8L498.8 200.3L499.5 201.8L500.2 203.4L501.0 204.9L501.8 206.5L502.5 208.0L503.2 209.5L504.0 210.9L504.8 212.2L505.5 213.4L506.2 214.5L507.0 215.4L507.8 216.2L508.5 216.8L509.2 217.1L510.0 217.1L510.8 216.8L511.5 216.3L512.2 215.7L513.0 215.1L513.8 214.5L514.5 214.1L515.2 214.0L516.0 214.0L516.8 214.0L517.5 214.2L518.2 214.5L519.0 214.8L519.8 215.2L520.5 215.7L521.2 216.2L522.0 216.9L522.8 217.7L523.5 218.6L524.2 219.4L525.0 220.1L525.8 220.7L526.5 221.0L527.2 221.0L528.0 220.8L528.8 220.5L529.5 220.2L530.2 219.8L531.0 219.3L531.8 218.8L532.5 218.3L533.2 217.8L534.0 217.3L534.8 216.9L535.5 216.4L536.2 216.0L537.0 215.7L537.8 215.4L538.5 215.1L539.2 215.0L540.0 215.1L540.8 215.4L541.5 216.0L542.2 216.8L543.0 217.6L543.8 218.5L544.5 219.4L545.2 220.3L546.0 221.1L546.8 221.8L547.5 222.4L548.2 222.7L549.0 222.7L549.8 222.2L550.5 221.0L551.2 218.4L552.0 215.8L552.8 214.8L553.5 216.1L554.2 218.6L555.0 221.7L555.8 225.2L556.5 228.7L557.2 231.7L558.0 233.3L558.8 232.4L559.5 227.9L560.2 221.5L561.0 215.0L561.8 209.1L562.5 203.5L563.2 197.8L564.0 192.0L564.8 185.8L565.5 179.4L566.0 175.0L567.0 168.2L567.8 165.7L568.5 166.3L569.2 168.2L570.0 169.2L570.8 168.5L571.5 166.6L572.2 163.7L573.0 159.4L573.8 157.2L574.5 160.3L575.2 166.5L576.0 173.2L576.8 178.5L577.5 182.2L578.2 183.8L579.0 182.4L579.8 178.1L580.5 169.7L581.2 162.7L582.0 163.8L582.8 170.8L583.5 178.9L584.2 187.8L585.0 197.2L585.8 206.5L586.5 214.4L587.2 219.6L588.0 222.2L588.8 222.6L589.5 221.6L590.2 220.1L591.0 218.9L591.8 218.7L592.5 219.9L593.2 222.7L594.0 227.0L594.8 232.0L595.5 236.6L596.2 239.9L597.0 241.4L597.8 241.6L598.5 241.3L599.2 241.3L600.0 241.5L600.8 241.5L601.5 241.3L602.2 240.4L603.0 239.1L603.8 237.8L604.5 238.4L605.2 242.4L606.0 249.1L606.8 255.2L607.5 258.5L608.2 259.3L609.0 259.3L609.8 260.3L610.5 262.6L611.2 266.2L612.0 270.2L612.8 273.5L613.5 275.0L614.2 274.3L615.0 271.6L615.8 268.1L616.5 265.1L617.2 264.1L618.0 265.7L618.8 269.9L619.5 275.5L620.2 281.1L621.0 284.7L621.8 285.2L622.5 282.3L623.2 277.4L624.0 273.3L624.8 272.1L625.5 275.0L626.2 280.8L627.0 287.2L627.8 291.9L628.5 293.4L629.2 291.7L630.0 288.2L630.8 285.3L631.5 284.8L632.2 287.6L633.0 293.4L633.8 301.1L634.5 308.4L635.2 312.7L636.0 313.0L636.8 310.0L637.5 306.2L638.2 304.7L639.0 306.8L639.8 311.7L640.5 316.9L641.2 320.0L642.0 319.6L642.8 317.1L643.5 315.8L644.2 317.9L645.0 323.4L645.8 330.1L646.5 334.7L647.2 335.1L648.0 332.0L648.8 329.7L649.5 332.9L650.2 343.1L651.0 356.2L651.8 366.1L652.5 368.5L653.2 363.7L654.0 355.6L654.8 350.7L655.5 352.8L656.2 360.3L657.0 369.1L657.8 374.8L658.5 375.2L659.2 372.1L660.0 370.1L660.8 372.1L661.5 378.4L662.2 384.9L663.0 387.2L663.8 385.2L664.5 385.6L665.2 392.3L666.0 405.0L666.8 417.6L667.5 426.7L668.2 430.3L669.0 430.3L669.8 431.0L670.5 435.4L671.2 442.8L672.0 449.8" stroke="#f0a000" stroke-width="1.05"/>
<path d="M108.0 302.0L108.8 302.1L109.5 302.1L110.2 302.2L111.0 302.2L111.8 302.3L112.5 302.3L113.2 302.4L114.0 302.5L114.8 302.5L115.5 302.6L116.2 302.6L117.0 302.7L117.8 302.8L118.5 302.8L119.2 302.9L120.0 302.9L120.8 303.0L121.5 303.0L122.2 303.1L123.0 303.2L123.8 303.2L124.5 303.3L125.2 303.3L126.0 303.4L126.8 303.4L127.5 303.5L128.2 303.6L129.0 303.6L129.8 303.7L130.5 303.7L131.2 303.8L132.0 303.8L132.8 303.9L133.5 304.0L134.2 304.0L135.0 304.1L135.8 304.1L136.5 304.2L137.2 304.2L138.0 304.3L138.8 304.3L139.5 304.4L140.2 304.5L141.0 304.5L141.8 304.6L142.5 304.6L143.2 304.7L144.0 304.7L144.8 304.8L145.5 304.8L146.2 304.9L147.0 305.0L147.8 305.0L148.5 305.1L149.2 305.1L150.0 305.2L150.8 305.2L151.5 305.3L152.2 305.3L153.0 305.4L153.8 305.4L154.5 305.5L155.2 305.6L156.0 305.6L156.8 305.7L157.5 305.7L158.2 305.8L159.0 305.8L159.8 305.9L160.5 305.9L161.2 306.0L162.0 306.0L162.8 306.1L163.5 306.1L164.2 306.2L165.0 306.2L165.8 306.3L166.5 306.3L167.2 306.4L168.0 306.5L168.8 306.5L169.5 306.6L170.2 306.6L171.0 306.7L171.8 306.7L172.5 306.8L173.2 306.8L174.0 306.9L174.8 306.9L175.5 307.0L176.2 307.0L177.0 307.1L177.8 307.1L178.5 307.2L179.2 307.2L180.0 307.3L180.8 307.3L181.5 307.4L182.2 307.4L183.0 307.5L183.8 307.5L184.5 307.6L185.2 307.6L186.0 307.7L186.8 307.7L187.5 307.8L188.2 307.8L189.0 307.9L189.8 307.9L190.5 308.0L191.2 308.0L192.0 308.1L192.8 308.1L193.5 308.2L194.2 308.2L195.0 308.3L195.8 308.3L196.5 308.4L197.2 308.4L198.0 308.5L198.8 308.5L199.5 308.6L200.2 308.6L201.0 308.7L201.8 308.7L202.5 308.8L203.2 308.8L204.0 308.9L204.8 308.9L205.5 309.0L206.2 309.0L207.0 309.1L207.8 309.1L208.5 309.2L209.2 309.3L210.0 309.3L210.8 309.4L211.5 309.4L212.2 309.5L213.0 309.5L213.8 309.6L214.5 309.7L215.2 309.7L216.0 309.8L216.8 309.8L217.5 309.9L218.2 310.0L219.0 310.0L219.8 310.1L220.5 310.1L221.2 310.2L222.0 310.3L222.8 310.3L223.5 310.4L224.2 310.4L225.0 310.5L225.8 310.5L226.5 310.6L227.2 310.6L228.0 310.6L228.8 310.7L229.5 310.7L230.2 310.7L231.0 310.7L231.8 310.7L232.5 310.7L233.2 310.7L234.0 310.7L234.8 310.7L235.5 310.7L236.2 310.7L237.0 310.6L237.8 310.6L238.5 310.5L239.2 310.5L240.0 310.4L240.8 310.3L241.5 310.3L242.2 310.2L243.0 310.1L243.8 310.0L244.5 309.8L245.2 309.7L246.0 309.6L246.8 309.4L247.5 309.2L248.2 309.1L249.0 308.9L249.8 308.7L250.5 308.5L251.2 308.2L252.0 308.0L252.8 307.7L253.5 307.4L254.2 307.1L255.0 306.8L255.8 306.5L256.5 306.2L257.2 305.9L258.0 305.5L258.8 305.2L259.5 304.9L260.2 304.5L261.0 304.2L261.8 303.9L262.5 303.6L263.2 303.3L264.0 303.1L264.8 302.8L265.5 302.6L266.2 302.3L267.0 302.1L267.8 301.9L268.5 301.6L269.2 301.4L270.0 301.2L270.8 300.9L271.5 300.7L272.2 300.4L273.0 300.2L273.8 299.9L274.5 299.6L275.2 299.4L276.0 299.1L276.8 298.8L277.5 298.5L278.2 298.2L279.0 297.9L279.8 297.6L280.5 297.3L281.2 297.0L282.0 296.7L282.8 296.4L283.5 296.1L284.2 295.8L285.0 295.5L285.8 295.2L286.5 294.9L287.2 294.6L288.0 294.3L288.8 294.0L289.5 293.7L290.2 293.4L291.0 293.1L291.8 292.8L292.5 292.5L293.2 292.2L294.0 291.9L294.8 291.6L295.5 291.3L296.2 291.0L297.0 290.7L297.8 290.4L298.5 290.1L299.2 289.8L300.0 289.5L300.8 289.2L301.5 288.9L302.2 288.5L303.0 288.2L303.8 287.9L304.5 287.6L305.2 287.4L306.0 287.1L306.8 286.9L307.5 286.7L308.2 286.6L309.0 286.5L309.8 286.5L310.5 286.5L311.2 286.6L312.0 286.8L312.8 287.1L313.5 287.4L314.2 287.8L315.0 288.3L315.8 288.8L316.5 289.3L317.2 289.9L318.0 290.5L318.8 291.1L319.5 291.7L320.2 292.4L321.0 293.0L321.8 293.7L322.5 294.3L323.2 295.0L324.0 295.7L324.8 296.4L325.5 297.1L326.2 297.8L327.0 298.5L327.8 299.2L328.5 300.0L329.2 300.7L330.0 301.5L330.8 302.3L331.5 303.0L332.2 303.8L333.0 304.5L333.8 305.3L334.5 306.1L335.2 306.8L336.0 307.5L336.8 308.3L337.5 309.0L338.2 309.7L339.0 310.4L339.8 311.0L340.5 311.7L341.2 312.3L342.0 312.9L342.8 313.5L343.5 314.1L344.2 314.6L345.0 315.1L345.8 315.6L346.5 316.1L347.2 316.6L348.0 317.0L348.8 317.4L349.5 317.8L350.2 318.1L351.0 318.5L351.8 318.8L352.5 319.1L353.2 319.3L354.0 319.6L354.8 319.8L355.5 320.0L356.2 320.2L357.0 320.3L357.8 320.5L358.5 320.6L359.2 320.7L360.0 320.8L360.8 320.9L361.5 321.0L362.2 321.0L363.0 321.1L363.8 321.1L364.5 321.1L365.2 321.1L366.0 321.1L366.8 321.1L367.5 321.0L368.2 321.0L369.0 320.9L369.8 320.8L370.5 320.7L371.2 320.6L372.0 320.5L372.8 320.4L373.5 320.2L374.2 320.1L375.0 319.9L375.8 319.7L376.5 319.5L377.2 319.3L378.0 319.1L378.8 318.9L379.5 318.7L380.2 318.4L381.0 318.2L381.8 317.9L382.5 317.6L383.2 317.3L384.0 317.0L384.8 316.7L385.5 316.4L386.2 316.1L387.0 315.8L387.8 315.4L388.5 315.1L389.2 314.7L390.0 314.4L390.8 314.0L391.5 313.7L392.2 313.3L393.0 313.0L393.8 312.6L394.5 312.2L395.2 311.8L396.0 311.4L396.8 311.0L397.5 310.6L398.2 310.3L399.0 309.9L399.8 309.6L400.5 309.2L401.2 308.9L402.0 308.6L402.8 308.3L403.5 308.0L404.2 307.7L405.0 307.4L405.8 307.1L406.5 306.8L407.2 306.5L408.0 306.2L408.8 305.9L409.5 305.7L410.2 305.4L411.0 305.2L411.8 304.9L412.5 304.7L413.2 304.4L414.0 304.2L414.8 304.0L415.5 303.8L416.2 303.5L417.0 303.3L417.8 303.1L418.5 302.8L419.2 302.6L420.0 302.3L420.8 302.1L421.5 301.8L422.2 301.5L423.0 301.2L423.8 300.9L424.5 300.5L425.2 300.1L426.0 299.7L426.8 299.3L427.5 298.9L428.2 298.4L429.0 297.9L429.8 297.5L430.5 297.0L431.2 296.5L432.0 296.0L432.8 295.5L433.5 294.9L434.2 294.3L435.0 293.7L435.8 293.0L436.5 292.2L437.2 291.3L438.0 290.3L438.8 289.2L439.5 287.9L440.2 286.5L441.0 285.0L441.8 283.3L442.5 281.5L443.2 279.6L444.0 277.6L444.8 275.6L445.5 273.4L446.2 271.3L447.0 269.1L447.8 266.9L448.5 264.6L449.2 262.3L450.0 260.0L450.8 257.6L451.5 255.2L452.2 252.7L453.0 250.4L453.8 248.3L454.5 246.5L455.2 245.2L456.0 244.3L456.8 244.0L457.5 244.2L458.2 244.6L459.0 245.1L459.8 245.8L460.5 246.5L461.2 247.2L462.0 248.0L462.8 248.6L463.5 249.2L464.2 249.7L465.0 250.0L465.8 250.0L466.5 249.5L467.2 248.7L468.0 247.7L468.8 246.4L469.5 245.1L470.2 243.7L471.0 242.1L471.8 240.4L472.5 238.5L473.2 236.4L474.0 234.0L474.8 231.4L475.5 228.6L476.2 225.7L477.0 222.8L477.8 219.8L478.5 216.9L479.2 214.1L480.0 211.4L480.8 208.8L481.5 206.3L482.2 203.9L483.0 201.6L483.8 199.4L484.5 197.4L485.2 195.6L486.0 194.1L486.8 193.0L487.5 192.5L488.2 192.6L489.0 193.1L489.8 193.8L490.5 194.5L491.2 195.2L492.0 195.8L492.8 196.4L493.5 196.9L494.2 197.4L495.0 198.0L495.8 198.7L496.5 199.4L497.2 200.3L498.0 201.2L498.8 202.2L499.5 203.3L500.2 204.4L501.0 205.6L501.8 206.8L502.5 208.1L503.2 209.5L504.0 210.8L504.8 212.1L505.5 213.3L506.2 214.4L507.0 215.4L507.8 216.2L508.5 217.0L509.2 217.6L510.0 218.0L510.8 218.2L511.5 218.2L512.2 217.9L513.0 217.4L513.8 216.8L514.5 216.0L515.2 215.2L516.0 214.3L516.8 213.4L517.5 212.5L518.2 211.7L519.0 211.0L519.8 210.2L520.5 209.5L521.2 208.9L522.0 208.5L522.8 208.1L523.5 208.0L524.2 208.0L525.0 208.3L525.8 208.9L526.5 209.5L527.2 210.4L528.0 211.3L528.8 212.3L529.5 213.3L530.2 214.3L531.0 215.4L531.8 216.5L532.5 217.5L533.2 218.6L534.0 219.7L534.8 220.8L535.5 221.9L536.2 222.9L537.0 224.0L537.8 225.0L538.5 226.1L539.2 227.0L540.0 227.9L540.8 228.7L541.5 229.4L542.2 229.9L543.0 230.3L543.8 230.6L544.5 230.6L545.2 230.2L546.0 229.6L546.8 228.6L547.5 227.4L548.2 226.0L549.0 224.4L549.8 222.6L550.5 220.7L551.2 218.4L552.0 216.1L552.8 213.9L553.5 212.0L554.2 210.6L555.0 209.7L555.8 209.2L556.5 208.7L557.2 208.3L558.0 207.7L558.8 206.9L559.5 205.9L560.2 204.7L561.0 203.0L561.8 200.6L562.5 197.1L563.2 192.9L564.0 188.0L564.8 182.2L565.5 175.9L566.2 170.3L567.0 166.2L567.8 164.1L568.5 165.5L569.2 170.1L570.0 172.0L570.8 168.8L571.5 163.6L572.2 158.3L573.0 153.7L573.8 150.5L574.5 150.0L575.2 153.4L576.0 159.5L576.8 166.1L577.5 171.5L578.2 175.9L579.0 179.0L579.8 180.0L580.5 177.3L581.2 173.5L582.0 172.0L582.8 174.0L583.5 178.2L584.2 184.1L585.0 191.2L585.8 198.0L586.5 203.5L587.2 208.0L588.0 211.8L588.5 214.0L589.5 217.7L590.2 220.1L591.0 222.0L591.8 223.4L592.5 224.3L593.2 224.8L594.0 225.3L594.8 226.3L595.5 228.3L596.2 231.6L597.0 235.7L597.8 239.7L598.5 242.9L599.2 245.8L600.0 248.3L600.8 250.5L601.5 252.3L602.2 252.6L603.0 250.6L603.8 244.9L604.5 237.4L605.2 232.3L606.0 233.0L606.8 239.2L607.5 248.3L608.2 257.2L609.0 264.4L609.8 269.3L610.5 271.8L611.2 272.4L612.0 271.4L612.8 269.5L613.5 267.6L614.2 266.4L615.0 266.6L615.8 268.4L616.5 271.5L617.2 275.1L618.0 278.3L618.8 280.3L619.5 280.7L620.2 279.8L621.0 277.7L621.8 274.8L622.5 271.5L623.2 269.0L624.0 269.0L624.8 272.4L625.5 278.5L626.2 284.5L627.0 288.2L627.8 289.2L628.5 288.4L629.2 287.6L630.0 288.0L630.8 289.9L631.5 292.6L632.2 295.1L633.0 296.7L633.8 297.4L634.5 297.7L635.2 297.9L636.0 298.4L636.8 299.7L637.5 301.6L638.2 303.9L639.0 306.7L639.8 310.5L640.5 316.8L641.2 326.7L642.0 339.3L642.8 351.7L643.5 360.7L644.2 363.2L645.0 359.2L645.8 351.7L646.5 344.6L647.2 340.5L648.0 339.3L648.8 340.2L649.5 341.8L650.2 342.8L651.0 342.5L651.8 341.9L652.5 343.6L653.2 348.3L654.0 354.4L654.8 360.4L655.5 364.4L656.2 365.7L657.0 365.8L657.8 367.2L658.5 370.7L660.0 394.5L662.0 385.0L664.0 401.0L666.0 402.4L680.0 402.4L682.0 396.0L683.5 402.4L717.0 402.4L719.4 395.4L721.0 402.0" stroke="#ff8c00" stroke-width="1.05"/>
<path d="M108.0 278.8L108.8 279.0L109.5 279.1L110.2 279.3L111.0 279.5L111.8 279.7L112.5 279.8L113.2 280.0L114.0 280.2L114.8 280.3L115.5 280.5L116.2 280.7L117.0 280.8L117.8 281.0L118.5 281.2L119.2 281.3L120.0 281.5L120.8 281.7L121.5 281.8L122.2 282.0L123.0 282.2L123.8 282.4L124.5 282.5L125.2 282.7L126.0 282.9L126.8 283.0L127.5 283.2L128.2 283.4L129.0 283.5L129.8 283.7L130.5 283.9L131.2 284.0L132.0 284.2L132.8 284.4L133.5 284.5L134.2 284.7L135.0 284.9L135.8 285.0L136.5 285.2L137.2 285.4L138.0 285.5L138.8 285.7L139.5 285.9L140.2 286.0L141.0 286.2L141.8 286.4L142.5 286.5L143.2 286.7L144.0 286.9L144.8 287.0L145.5 287.2L146.2 287.4L147.0 287.5L147.8 287.7L148.5 287.9L149.2 288.0L150.0 288.2L150.8 288.4L151.5 288.5L152.2 288.7L153.0 288.9L153.8 289.0L154.5 289.2L155.2 289.4L156.0 289.5L156.8 289.7L157.5 289.9L158.2 290.0L159.0 290.2L159.8 290.4L160.5 290.5L161.2 290.7L162.0 290.9L162.8 291.0L163.5 291.2L164.2 291.4L165.0 291.5L165.8 291.7L166.5 291.9L167.2 292.0L168.0 292.2L168.8 292.4L169.5 292.5L170.2 292.7L171.0 292.9L171.8 293.0L172.5 293.2L173.2 293.4L174.0 293.6L174.8 293.7L175.5 293.9L176.2 294.1L177.0 294.2L177.8 294.4L178.5 294.6L179.2 294.7L180.0 294.9L180.8 295.1L181.5 295.2L182.2 295.4L183.0 295.6L183.8 295.7L184.5 295.9L185.2 296.1L186.0 296.2L186.8 296.4L187.5 296.5L188.2 296.7L189.0 296.9L189.8 297.0L190.5 297.2L191.2 297.3L192.0 297.5L192.8 297.7L193.5 297.8L194.2 298.0L195.0 298.1L195.8 298.3L196.5 298.4L197.2 298.6L198.0 298.8L198.8 298.9L199.5 299.1L200.2 299.2L201.0 299.4L201.8 299.5L202.5 299.7L203.2 299.8L204.0 300.0L204.8 300.1L205.5 300.2L206.2 300.4L207.0 300.5L207.8 300.7L208.5 300.8L209.2 301.0L210.0 301.1L210.8 301.2L211.5 301.4L212.2 301.5L213.0 301.6L213.8 301.8L214.5 301.9L215.2 302.0L216.0 302.2L216.8 302.3L217.5 302.4L218.2 302.5L219.0 302.7L219.8 302.8L220.5 302.9L221.2 303.0L222.0 303.1L222.8 303.2L223.5 303.3L224.2 303.4L225.0 303.5L225.8 303.6L226.5 303.7L227.2 303.7L228.0 303.8L228.8 303.9L229.5 304.0L230.2 304.0L231.0 304.1L231.8 304.2L232.5 304.2L233.2 304.3L234.0 304.3L234.8 304.4L235.5 304.4L236.2 304.4L237.0 304.5L237.8 304.5L238.5 304.5L239.2 304.5L240.0 304.5L240.8 304.6L241.5 304.6L242.2 304.6L243.0 304.6L243.8 304.6L244.5 304.5L245.2 304.5L246.0 304.5L246.8 304.5L247.5 304.4L248.2 304.4L249.0 304.4L249.8 304.3L250.5 304.3L251.2 304.2L252.0 304.2L252.8 304.1L253.5 304.0L254.2 304.0L255.0 303.9L255.8 303.8L256.5 303.7L257.2 303.7L258.0 303.6L258.8 303.5L259.5 303.4L260.2 303.3L261.0 303.2L261.8 303.1L262.5 303.0L263.2 302.9L264.0 302.8L264.8 302.7L265.5 302.6L266.2 302.5L267.0 302.4L267.8 302.3L268.5 302.2L269.2 302.1L270.0 302.0L270.8 301.9L271.5 301.8L272.2 301.7L273.0 301.5L273.8 301.4L274.5 301.3L275.2 301.2L276.0 301.1L276.8 301.0L277.5 300.9L278.2 300.8L279.0 300.6L279.8 300.5L280.5 300.4L281.2 300.3L282.0 300.2L282.8 300.1L283.5 300.0L284.2 299.9L285.0 299.8L285.8 299.7L286.5 299.6L287.2 299.5L288.0 299.4L288.8 299.2L289.5 299.1L290.2 299.0L291.0 298.9L291.8 298.8L292.5 298.6L293.2 298.5L294.0 298.4L294.8 298.2L295.5 298.0L296.2 297.9L297.0 297.7L297.8 297.5L298.5 297.3L299.2 297.1L300.0 296.8L300.8 296.6L301.5 296.3L302.2 296.0L303.0 295.6L303.8 295.3L304.5 295.0L305.2 294.6L306.0 294.2L306.8 293.8L307.5 293.4L308.2 293.0L309.0 292.6L309.8 292.1L310.5 291.7L311.2 291.2L312.0 290.7L312.8 290.2L313.5 289.7L314.2 289.2L315.0 288.7L315.8 288.3L316.5 288.0L317.2 287.7L318.0 287.5L318.8 287.4L319.5 287.4L320.2 287.6L321.0 287.8L321.8 288.1L322.5 288.5L323.2 289.0L324.0 289.5L324.8 290.0L325.5 290.6L326.2 291.2L327.0 291.8L327.8 292.4L328.5 293.0L329.2 293.6L330.0 294.2L330.8 294.8L331.5 295.4L332.2 296.1L333.0 296.7L333.8 297.3L334.5 297.9L335.2 298.5L336.0 299.1L336.8 299.7L337.5 300.2L338.2 300.8L339.0 301.4L339.8 301.9L340.5 302.5L341.2 303.0L342.0 303.6L342.8 304.1L343.5 304.6L344.2 305.1L345.0 305.6L345.8 306.1L346.5 306.5L347.2 307.0L348.0 307.4L348.8 307.7L349.5 308.1L350.2 308.4L351.0 308.7L351.8 308.9L352.5 309.2L353.2 309.4L354.0 309.6L354.8 309.8L355.5 309.9L356.2 310.1L357.0 310.2L357.8 310.3L358.5 310.4L359.2 310.5L360.0 310.6L360.8 310.6L361.5 310.6L362.2 310.7L363.0 310.7L363.8 310.7L364.5 310.7L365.2 310.6L366.0 310.6L366.8 310.6L367.5 310.5L368.2 310.4L369.0 310.3L369.8 310.2L370.5 310.1L371.2 310.0L372.0 309.8L372.8 309.6L373.5 309.4L374.2 309.2L375.0 308.9L375.8 308.6L376.5 308.3L377.2 308.0L378.0 307.6L378.8 307.2L379.5 306.7L380.2 306.2L381.0 305.7L381.8 305.2L382.5 304.6L383.2 303.9L384.0 303.3L384.8 302.6L385.5 301.9L386.2 301.2L387.0 300.5L387.8 299.7L388.5 298.9L389.2 298.1L390.0 297.3L390.8 296.5L391.5 295.6L392.2 294.8L393.0 293.9L393.8 292.9L394.5 292.0L395.2 291.1L396.0 290.2L396.8 289.4L397.5 288.5L398.2 287.7L399.0 287.0L399.8 286.3L400.5 285.7L401.2 285.2L402.0 284.7L402.8 284.3L403.5 283.9L404.2 283.6L405.0 283.4L405.8 283.2L406.5 283.1L407.2 283.1L408.0 283.2L408.8 283.3L409.5 283.5L410.2 283.7L411.0 283.9L411.8 284.1L412.5 284.3L413.2 284.5L414.0 284.7L414.8 284.8L415.5 284.8L416.2 284.8L417.0 284.7L417.8 284.6L418.5 284.4L419.2 284.2L420.0 284.0L420.8 283.7L421.5 283.4L422.2 283.1L423.0 282.7L423.8 282.4L424.5 282.0L425.2 281.6L426.0 281.1L426.8 280.6L427.5 279.9L428.2 279.2L429.0 278.2L429.8 277.1L430.5 275.9L431.2 274.4L432.0 272.6L432.8 270.4L433.5 268.0L434.2 265.6L435.0 263.5L435.8 261.5L436.5 259.9L437.2 258.8L438.0 258.4L438.8 258.8L439.5 259.9L440.2 261.5L441.0 263.4L441.8 265.7L442.5 268.1L443.2 270.7L444.0 273.2L444.8 275.4L445.5 277.2L446.2 278.6L447.0 279.7L447.8 280.3L448.5 280.3L449.2 279.8L450.0 278.9L450.8 277.9L451.5 276.7L452.2 275.3L453.0 273.9L453.8 272.5L454.5 271.0L455.2 269.6L456.0 268.1L456.8 266.7L457.5 265.3L458.2 263.9L459.0 262.6L459.8 261.4L460.5 260.2L461.2 259.2L462.0 258.2L462.8 257.3L463.5 256.4L464.2 255.5L465.0 254.5L465.8 253.4L466.5 252.2L467.2 251.0L468.0 249.6L468.8 248.3L469.5 246.9L470.2 245.5L471.0 244.0L471.8 242.5L472.5 241.0L473.2 239.5L474.0 237.9L474.8 236.4L475.5 234.8L476.2 233.1L477.0 231.4L477.8 229.6L478.5 227.8L479.2 225.8L480.0 223.9L480.8 221.9L481.5 219.8L482.2 217.8L483.0 215.7L483.8 213.7L484.5 211.7L485.2 209.7L486.0 207.7L486.8 205.7L487.5 203.9L488.2 202.0L489.0 200.2L489.8 198.5L490.5 197.0L491.2 195.6L492.0 194.4L492.8 193.6L493.5 193.0L494.2 192.8L495.0 193.0L495.8 193.5L496.5 194.2L497.2 195.2L498.0 196.4L498.8 197.6L499.5 199.0L500.2 200.5L501.0 202.1L501.8 203.7L502.5 205.4L503.2 207.1L504.0 208.7L504.8 210.1L505.5 211.3L506.2 212.3L507.0 213.0L507.8 213.3L508.5 213.5L509.2 213.5L510.0 213.2L510.8 212.9L511.5 212.4L512.2 211.8L513.0 211.1L513.8 210.3L514.5 209.5L515.2 208.6L516.0 207.8L516.8 207.0L517.5 206.4L518.2 205.8L519.0 205.4L519.8 205.0L520.5 204.7L521.2 204.4L522.0 204.3L522.8 204.1L523.5 204.0L524.2 204.0L525.0 204.0L525.8 204.0L526.5 204.0L527.2 204.2L528.0 204.5L528.8 204.9L529.5 205.5L530.2 206.3L531.0 207.2L531.8 208.1L532.5 209.1L533.2 210.1L534.0 211.2L534.8 212.2L535.5 213.3L536.2 214.3L537.0 215.4L537.8 216.4L538.5 217.4L539.2 218.4L540.0 219.4L540.8 220.4L541.5 221.3L542.2 222.3L543.0 223.3L543.8 224.2L544.5 225.0L545.2 225.8L546.0 226.5L546.8 227.1L547.5 227.7L548.2 228.1L549.0 228.4L549.8 228.5L550.5 228.3L551.2 227.9L552.0 227.3L552.8 226.4L553.5 225.2L554.2 223.8L555.0 222.3L555.8 220.7L556.5 219.1L557.2 217.5L558.0 215.9L558.8 214.3L559.5 212.5L560.2 210.4L561.0 208.0L561.8 204.8L562.5 200.7L563.2 195.7L564.0 190.0L564.8 183.6L565.5 176.7L566.2 169.6L567.0 162.7L567.8 157.2L568.5 155.6L569.2 158.5L570.0 160.0L570.8 157.0L571.5 152.5L572.2 149.0L573.0 146.8L573.8 147.1L574.5 150.5L575.2 155.1L576.0 160.0L576.8 164.9L577.5 169.4L578.2 172.9L579.0 173.6L579.8 172.2L580.5 170.0L581.2 167.4L582.0 165.4L582.8 167.2L583.5 174.4L584.2 183.4L585.0 190.6L585.8 196.9L586.5 202.5L587.0 206.0L588.0 209.3L588.8 212.2L589.5 216.4L590.2 221.7L591.0 227.4L591.8 231.8L592.5 234.1L593.2 234.2L594.0 232.8L594.8 230.8L595.5 229.0L596.2 227.7L597.0 227.8L597.8 229.7L598.5 233.8L599.2 239.6L600.0 245.3L600.8 249.8L601.5 253.1L602.2 255.1L603.0 255.8L603.8 254.6L604.5 252.2L605.2 250.7L606.0 251.9L606.8 254.3L607.5 256.3L608.2 256.6L609.0 255.3L609.8 253.6L610.5 252.6L611.2 253.3L612.0 256.1L612.8 260.3L613.5 264.5L614.2 267.4L615.0 268.1L615.8 266.7L616.5 264.2L617.2 262.0L618.0 261.4L618.8 263.3L619.5 267.8L620.2 274.0L621.0 279.8L621.8 283.0L622.5 282.3L623.2 277.9L624.0 272.0L624.8 267.4L625.5 266.4L626.2 268.9L627.0 273.2L627.8 277.1L628.5 278.3L629.2 276.5L630.0 273.0L630.8 269.9L631.5 269.0L632.2 271.0L633.0 275.9L633.8 283.0L634.5 290.4L635.2 295.8L636.0 298.0L636.8 297.1L637.5 294.8L638.2 293.5L639.0 294.8L639.8 298.9L640.5 305.1L641.2 311.4L642.0 315.6L642.8 317.3L643.5 317.8L644.2 318.6L645.0 320.1L645.8 322.1L646.5 323.6L647.2 324.1L648.0 323.9L648.8 324.9L649.5 328.7L650.2 334.5L651.0 339.5L651.8 341.4L652.5 340.8L653.2 339.7L654.0 340.8L654.8 346.3L655.5 354.9L656.2 362.5L657.0 365.7L657.8 364.2L658.5 360.5L659.2 359.0L660.0 361.8L660.8 366.8L661.5 370.2L662.2 368.2L663.0 361.3L664.3 363.0L666.0 374.0L667.5 386.0L669.7 371.0L671.5 392.0L673.0 402.4L675.0 392.0L676.5 402.4L678.5 391.0L680.0 402.4L682.0 393.0L683.5 402.4L686.5 399.0L688.6 384.0L690.5 402.4L692.0 394.0L693.5 402.4L700.0 402.4L702.0 394.5L703.5 402.4L711.0 402.4L713.4 391.7L715.0 402.4L722.0 402.4" stroke="#ff7878" stroke-width="1.05"/>
<path d="M108.0 290.5L108.8 290.7L109.5 290.8L110.2 291.0L111.0 291.1L111.8 291.3L112.5 291.5L113.2 291.6L114.0 291.8L114.8 291.9L115.5 292.1L116.2 292.3L117.0 292.4L117.8 292.6L118.5 292.7L119.2 292.9L120.0 293.1L120.8 293.2L121.5 293.4L122.2 293.5L123.0 293.7L123.8 293.9L124.5 294.0L125.2 294.2L126.0 294.3L126.8 294.5L127.5 294.7L128.2 294.8L129.0 295.0L129.8 295.1L130.5 295.3L131.2 295.4L132.0 295.6L132.8 295.8L133.5 295.9L134.2 296.1L135.0 296.2L135.8 296.4L136.5 296.6L137.2 296.7L138.0 296.9L138.8 297.0L139.5 297.2L140.2 297.3L141.0 297.5L141.8 297.7L142.5 297.8L143.2 298.0L144.0 298.1L144.8 298.3L145.5 298.5L146.2 298.6L147.0 298.8L147.8 298.9L148.5 299.1L149.2 299.3L150.0 299.4L150.8 299.6L151.5 299.7L152.2 299.9L153.0 300.1L153.8 300.2L154.5 300.4L155.2 300.5L156.0 300.7L156.8 300.9L157.5 301.0L158.2 301.2L159.0 301.3L159.8 301.5L160.5 301.7L161.2 301.8L162.0 302.0L162.8 302.1L163.5 302.3L164.2 302.5L165.0 302.6L165.8 302.8L166.5 302.9L167.2 303.1L168.0 303.3L168.8 303.4L169.5 303.6L170.2 303.7L171.0 303.9L171.8 304.1L172.5 304.2L173.2 304.4L174.0 304.6L174.8 304.7L175.5 304.9L176.2 305.1L177.0 305.2L177.8 305.4L178.5 305.5L179.2 305.7L180.0 305.9L180.8 306.0L181.5 306.2L182.2 306.4L183.0 306.5L183.8 306.7L184.5 306.8L185.2 307.0L186.0 307.2L186.8 307.3L187.5 307.5L188.2 307.6L189.0 307.8L189.8 308.0L190.5 308.1L191.2 308.3L192.0 308.4L192.8 308.6L193.5 308.7L194.2 308.9L195.0 309.0L195.8 309.2L196.5 309.3L197.2 309.5L198.0 309.6L198.8 309.8L199.5 309.9L200.2 310.1L201.0 310.2L201.8 310.4L202.5 310.5L203.2 310.6L204.0 310.8L204.8 310.9L205.5 311.0L206.2 311.2L207.0 311.3L207.8 311.4L208.5 311.6L209.2 311.7L210.0 311.8L210.8 311.9L211.5 312.1L212.2 312.2L213.0 312.3L213.8 312.4L214.5 312.5L215.2 312.6L216.0 312.7L216.8 312.8L217.5 312.9L218.2 313.0L219.0 313.1L219.8 313.2L220.5 313.3L221.2 313.4L222.0 313.4L222.8 313.5L223.5 313.6L224.2 313.6L225.0 313.7L225.8 313.7L226.5 313.7L227.2 313.8L228.0 313.8L228.8 313.9L229.5 313.9L230.2 313.9L231.0 313.9L231.8 313.9L232.5 314.0L233.2 314.0L234.0 314.0L234.8 314.0L235.5 314.0L236.2 314.0L237.0 314.0L237.8 313.9L238.5 313.9L239.2 313.9L240.0 313.9L240.8 313.9L241.5 313.9L242.2 313.8L243.0 313.8L243.8 313.8L244.5 313.7L245.2 313.7L246.0 313.6L246.8 313.6L247.5 313.6L248.2 313.5L249.0 313.5L249.8 313.4L250.5 313.4L251.2 313.3L252.0 313.2L252.8 313.2L253.5 313.1L254.2 313.0L255.0 313.0L255.8 312.9L256.5 312.8L257.2 312.7L258.0 312.6L258.8 312.5L259.5 312.4L260.2 312.3L261.0 312.2L261.8 312.1L262.5 311.9L263.2 311.8L264.0 311.7L264.8 311.6L265.5 311.5L266.2 311.3L267.0 311.2L267.8 311.0L268.5 310.9L269.2 310.7L270.0 310.5L270.8 310.4L271.5 310.2L272.2 310.0L273.0 309.7L273.8 309.5L274.5 309.3L275.2 309.0L276.0 308.8L276.8 308.5L277.5 308.3L278.2 308.0L279.0 307.8L279.8 307.5L280.5 307.2L281.2 307.0L282.0 306.7L282.8 306.4L283.5 306.2L284.2 305.9L285.0 305.6L285.8 305.4L286.5 305.1L287.2 304.8L288.0 304.6L288.8 304.3L289.5 304.0L290.2 303.8L291.0 303.5L291.8 303.2L292.5 303.0L293.2 302.7L294.0 302.5L294.8 302.2L295.5 302.0L296.2 301.7L297.0 301.5L297.8 301.3L298.5 301.0L299.2 300.8L300.0 300.6L300.8 300.4L301.5 300.2L302.2 300.0L303.0 299.8L303.8 299.6L304.5 299.5L305.2 299.3L306.0 299.2L306.8 299.0L307.5 298.9L308.2 298.8L309.0 298.7L309.8 298.7L310.5 298.6L311.2 298.5L312.0 298.5L312.8 298.5L313.5 298.4L314.2 298.4L315.0 298.4L315.8 298.5L316.5 298.6L317.2 298.7L318.0 298.8L318.8 299.0L319.5 299.3L320.2 299.6L321.0 299.9L321.8 300.3L322.5 300.7L323.2 301.1L324.0 301.5L324.8 301.9L325.5 302.3L326.2 302.7L327.0 303.2L327.8 303.6L328.5 304.0L329.2 304.4L330.0 304.8L330.8 305.3L331.5 305.7L332.2 306.1L333.0 306.5L333.8 306.9L334.5 307.3L335.2 307.7L336.0 308.1L336.8 308.5L337.5 308.9L338.2 309.2L339.0 309.6L339.8 310.0L340.5 310.3L341.2 310.7L342.0 311.0L342.8 311.4L343.5 311.7L344.2 312.0L345.0 312.3L345.8 312.6L346.5 312.9L347.2 313.2L348.0 313.4L348.8 313.6L349.5 313.9L350.2 314.0L351.0 314.2L351.8 314.4L352.5 314.5L353.2 314.6L354.0 314.7L354.8 314.8L355.5 314.9L356.2 314.9L357.0 314.9L357.8 314.9L358.5 314.9L359.2 314.9L360.0 314.8L360.8 314.8L361.5 314.7L362.2 314.6L363.0 314.5L363.8 314.4L364.5 314.3L365.2 314.1L366.0 314.0L366.8 313.8L367.5 313.7L368.2 313.5L369.0 313.3L369.8 313.1L370.5 312.9L371.2 312.7L372.0 312.4L372.8 312.2L373.5 311.9L374.2 311.6L375.0 311.3L375.8 310.9L376.5 310.6L377.2 310.2L378.0 309.8L378.8 309.3L379.5 308.9L380.2 308.4L381.0 307.9L381.8 307.4L382.5 306.9L383.2 306.3L384.0 305.7L384.8 305.2L385.5 304.6L386.2 303.9L387.0 303.3L387.8 302.6L388.5 302.0L389.2 301.3L390.0 300.6L390.8 300.0L391.5 299.3L392.2 298.7L393.0 298.0L393.8 297.4L394.5 296.8L395.2 296.2L396.0 295.6L396.8 295.1L397.5 294.6L398.2 294.2L399.0 293.8L399.8 293.5L400.5 293.2L401.2 292.9L402.0 292.7L402.8 292.5L403.5 292.4L404.2 292.3L405.0 292.1L405.8 292.0L406.5 291.9L407.2 291.9L408.0 291.8L408.8 291.8L409.5 291.7L410.2 291.7L411.0 291.7L411.8 291.6L412.5 291.6L413.2 291.5L414.0 291.4L414.8 291.3L415.5 291.1L416.2 290.9L417.0 290.7L417.8 290.4L418.5 290.1L419.2 289.7L420.0 289.3L420.8 288.9L421.5 288.4L422.2 287.9L423.0 287.4L423.8 286.8L424.5 286.2L425.2 285.6L426.0 285.0L426.8 284.3L427.5 283.6L428.2 282.9L429.0 282.2L429.8 281.4L430.5 280.7L431.2 279.9L432.0 279.1L432.8 278.3L433.5 277.5L434.2 276.7L435.0 275.9L435.8 275.2L436.5 274.4L437.2 273.8L438.0 273.1L438.8 272.6L439.5 272.2L440.2 271.9L441.0 271.6L441.8 271.1L442.5 270.1L443.2 268.2L444.0 264.2L444.8 260.5L445.5 259.9L446.2 261.0L447.0 263.0L447.8 265.4L448.5 268.0L449.2 270.3L450.0 272.0L450.8 272.9L451.5 273.4L452.2 273.4L453.0 273.1L453.8 272.5L454.5 271.7L455.2 270.6L456.0 269.5L456.8 268.4L457.5 267.3L458.2 266.1L459.0 264.9L459.8 263.8L460.5 262.7L461.2 261.7L462.0 260.6L462.8 259.7L463.5 258.7L464.2 257.7L465.0 256.7L465.8 255.7L466.5 254.7L467.2 253.6L468.0 252.5L468.8 251.3L469.5 250.0L470.2 248.7L471.0 247.2L471.8 245.7L472.5 244.1L473.2 242.4L474.0 240.7L474.8 238.9L475.5 237.0L476.2 235.1L477.0 233.2L477.8 231.3L478.5 229.3L479.2 227.3L480.0 225.4L480.8 223.4L481.5 221.4L482.2 219.4L483.0 217.4L483.8 215.4L484.5 213.4L485.0 212.0L486.0 209.9L486.8 208.1L487.5 206.1L488.2 203.7L489.0 200.9L489.8 197.7L490.5 194.2L491.2 190.4L492.0 186.6L492.8 183.0L493.5 179.8L494.2 177.3L495.0 175.9L495.8 175.7L496.5 176.6L497.2 178.9L498.0 182.3L498.8 186.6L499.5 191.6L500.2 197.0L501.0 202.7L501.8 208.4L502.5 213.6L503.2 218.0L504.0 221.3L504.8 223.6L505.5 224.8L506.2 224.9L507.0 223.9L507.8 222.0L508.5 219.2L509.2 215.8L510.0 212.1L510.8 208.1L511.5 204.2L512.2 200.6L513.0 197.7L513.8 195.6L514.5 194.7L515.2 195.2L516.0 197.1L516.8 200.3L517.5 204.3L518.2 209.0L519.0 213.9L519.8 218.7L520.5 223.1L521.2 226.7L522.0 229.2L522.8 230.5L523.5 230.5L524.2 229.1L525.0 226.6L525.8 223.0L526.5 218.6L527.2 213.6L528.0 208.6L528.8 204.2L529.5 200.9L530.2 199.3L531.0 199.2L531.8 200.7L532.5 203.6L533.2 207.8L534.0 212.9L534.8 218.4L535.5 223.9L536.2 228.8L537.0 232.5L537.8 234.7L538.5 234.9L539.2 232.6L540.0 228.3L540.8 222.6L541.5 216.3L542.2 210.2L543.0 205.4L543.8 202.3L544.5 200.8L545.2 201.3L546.0 203.7L546.8 207.9L547.5 213.6L548.2 220.1L549.0 226.7L549.8 232.6L550.5 236.9L551.2 238.7L552.0 237.9L552.8 234.6L553.5 229.3L554.2 222.6L555.0 215.3L555.8 208.0L556.5 201.5L557.2 196.6L558.0 193.7L558.8 193.1L559.5 194.6L560.2 197.6L561.0 201.3L561.8 204.6L562.5 206.1L563.2 204.7L564.0 200.2L564.8 192.7L565.5 182.8L566.2 171.6L567.0 160.9L567.8 153.0L568.5 150.1L569.2 151.0L570.0 153.9L570.8 157.7L571.5 162.1L572.2 166.0L573.0 167.5L573.8 169.0L574.5 172.7L575.2 176.3L576.0 177.6L576.8 176.0L577.5 172.8L578.2 169.5L579.0 166.4L579.8 163.8L580.5 160.4L581.2 160.7L582.0 169.7L582.8 183.4L583.5 195.5L584.2 204.4L585.0 209.9L585.8 211.9L586.5 211.4L587.2 209.0L588.0 206.6L588.8 206.1L589.5 208.4L590.2 213.3L591.0 220.2L591.8 227.4L592.5 233.4L593.2 237.3L594.0 238.6L594.8 237.3L595.5 234.3L596.2 230.7L597.0 228.2L597.8 228.1L598.5 231.7L599.2 238.7L600.0 247.5L600.8 256.2L601.5 263.9L602.2 269.1L603.0 271.1L603.8 268.7L604.5 263.2L605.2 257.9L606.0 255.7L606.8 256.9L607.5 260.2L608.2 264.0L609.0 267.3L609.8 269.5L610.5 269.9L611.2 268.7L612.0 266.7L612.8 264.8L613.5 264.0L614.2 264.5L615.0 266.4L615.8 268.8L616.5 270.9L617.2 272.1L618.0 272.2L618.8 271.6L619.5 271.3L620.2 272.1L621.0 274.1L621.8 276.7L622.5 278.8L623.2 279.6L624.0 279.3L624.8 278.5L625.5 278.2L626.2 278.1L627.0 278.1L627.8 277.3L628.5 275.5L629.2 273.9L630.0 274.4L630.8 277.7L631.5 282.1L632.2 285.5L633.0 287.5L633.8 288.9L634.5 290.8L635.2 292.9L636.0 294.8L636.8 296.6L637.5 298.3L638.2 300.2L639.0 302.6L639.8 305.3L640.5 308.3L641.2 311.7L642.0 314.5L642.8 317.0L643.5 319.6L644.2 322.5L645.0 325.1L645.8 326.6L646.5 326.8L647.2 326.3L648.0 325.9L648.8 327.4L649.5 331.5L650.2 336.9L651.0 341.0L651.8 342.5L652.5 342.9L653.2 344.0L654.0 346.9L654.8 352.1L655.5 357.7L656.2 361.4L657.0 362.9L657.8 364.3L658.5 367.3L659.2 372.3L660.0 378.3L660.8 382.7L661.5 385.1L662.2 386.3L663.0 387.1L663.8 388.9L664.5 393.4L665.2 398.1L666.0 400.4L666.8 399.7L667.5 402.2L668.2 410.5L669.0 422.1L669.8 430.9L670.5 433.8L671.2 433.8L672.0 437.2" stroke="#dc5078" stroke-width="1.05"/>
<path d="M108.0 275.4L108.8 275.4L109.5 275.5L110.2 275.5L111.0 275.5L111.8 275.6L112.5 275.6L113.2 275.6L114.0 275.7L114.8 275.7L115.5 275.7L116.2 275.8L117.0 275.8L117.8 275.9L118.5 275.9L119.2 275.9L120.0 276.0L120.8 276.0L121.5 276.0L122.2 276.1L123.0 276.1L123.8 276.1L124.5 276.2L125.2 276.2L126.0 276.3L126.8 276.3L127.5 276.3L128.2 276.4L129.0 276.4L129.8 276.5L130.5 276.5L131.2 276.5L132.0 276.6L132.8 276.6L133.5 276.6L134.2 276.7L135.0 276.7L135.8 276.8L136.5 276.8L137.2 276.9L138.0 276.9L138.8 276.9L139.5 277.0L140.2 277.0L141.0 277.1L141.8 277.1L142.5 277.1L143.2 277.2L144.0 277.2L144.8 277.3L145.5 277.3L146.2 277.4L147.0 277.4L147.8 277.4L148.5 277.5L149.2 277.5L150.0 277.6L150.8 277.6L151.5 277.7L152.2 277.7L153.0 277.8L153.8 277.8L154.5 277.9L155.2 277.9L156.0 277.9L156.8 278.0L157.5 278.0L158.2 278.1L159.0 278.1L159.8 278.2L160.5 278.2L161.2 278.3L162.0 278.3L162.8 278.4L163.5 278.4L164.2 278.5L165.0 278.5L165.8 278.6L166.5 278.6L167.2 278.7L168.0 278.7L168.8 278.8L169.5 278.8L170.2 278.9L171.0 278.9L171.8 279.0L172.5 279.0L173.2 279.1L174.0 279.2L174.8 279.2L175.5 279.3L176.2 279.3L177.0 279.4L177.8 279.4L178.5 279.5L179.2 279.6L180.0 279.6L180.8 279.7L181.5 279.7L182.2 279.8L183.0 279.9L183.8 279.9L184.5 280.0L185.2 280.1L186.0 280.1L186.8 280.2L187.5 280.3L188.2 280.3L189.0 280.4L189.8 280.5L190.5 280.5L191.2 280.6L192.0 280.7L192.8 280.8L193.5 280.8L194.2 280.9L195.0 281.0L195.8 281.0L196.5 281.1L197.2 281.2L198.0 281.2L198.8 281.3L199.5 281.4L200.2 281.4L201.0 281.5L201.8 281.5L202.5 281.6L203.2 281.6L204.0 281.7L204.8 281.8L205.5 281.8L206.2 281.9L207.0 281.9L207.8 282.0L208.5 282.0L209.2 282.0L210.0 282.1L210.8 282.1L211.5 282.2L212.2 282.2L213.0 282.2L213.8 282.3L214.5 282.3L215.2 282.3L216.0 282.3L216.8 282.3L217.5 282.4L218.2 282.4L219.0 282.4L219.8 282.4L220.5 282.4L221.2 282.4L222.0 282.4L222.8 282.4L223.5 282.4L224.2 282.4L225.0 282.4L225.8 282.4L226.5 282.4L227.2 282.4L228.0 282.4L228.8 282.4L229.5 282.4L230.2 282.3L231.0 282.3L231.8 282.3L232.5 282.3L233.2 282.3L234.0 282.2L234.8 282.2L235.5 282.2L236.2 282.2L237.0 282.2L237.8 282.1L238.5 282.1L239.2 282.1L240.0 282.1L240.8 282.0L241.5 282.0L242.2 282.0L243.0 282.0L243.8 281.9L244.5 281.9L245.2 281.9L246.0 281.8L246.8 281.8L247.5 281.8L248.2 281.8L249.0 281.7L249.8 281.7L250.5 281.7L251.2 281.7L252.0 281.6L252.8 281.6L253.5 281.6L254.2 281.6L255.0 281.5L255.8 281.5L256.5 281.5L257.2 281.5L258.0 281.4L258.8 281.4L259.5 281.4L260.2 281.4L261.0 281.4L261.8 281.4L262.5 281.4L263.2 281.3L264.0 281.3L264.8 281.3L265.5 281.4L266.2 281.4L267.0 281.4L267.8 281.4L268.5 281.4L269.2 281.4L270.0 281.5L270.8 281.5L271.5 281.5L272.2 281.6L273.0 281.6L273.8 281.7L274.5 281.8L275.2 281.9L276.0 282.0L276.8 282.1L277.5 282.2L278.2 282.4L279.0 282.5L279.8 282.7L280.5 282.9L281.2 283.1L282.0 283.2L282.8 283.4L283.5 283.6L284.2 283.8L285.0 284.0L285.8 284.2L286.5 284.4L287.2 284.6L288.0 284.8L288.8 285.0L289.5 285.3L290.2 285.5L291.0 285.8L291.8 286.0L292.5 286.3L293.2 286.6L294.0 286.9L294.8 287.2L295.5 287.5L296.2 287.8L297.0 288.2L297.8 288.5L298.5 288.9L299.2 289.2L300.0 289.5L300.8 289.9L301.5 290.3L302.2 290.6L303.0 291.0L303.8 291.4L304.5 291.7L305.2 292.1L306.0 292.5L306.8 292.8L307.5 293.2L308.2 293.6L309.0 294.0L309.8 294.3L310.5 294.7L311.2 295.1L312.0 295.5L312.8 295.9L313.5 296.3L314.2 296.7L315.0 297.1L315.8 297.5L316.5 297.9L317.2 298.3L318.0 298.7L318.8 299.1L319.5 299.5L320.2 299.9L321.0 300.3L321.8 300.7L322.5 301.1L323.2 301.4L324.0 301.8L324.8 302.2L325.5 302.5L326.2 302.9L327.0 303.2L327.8 303.5L328.5 303.8L329.2 304.1L330.0 304.4L330.8 304.6L331.5 304.9L332.2 305.1L333.0 305.4L333.8 305.6L334.5 305.8L335.2 306.1L336.0 306.3L336.8 306.6L337.5 306.8L338.2 307.0L339.0 307.3L339.8 307.5L340.5 307.7L341.2 307.9L342.0 308.1L342.8 308.3L343.5 308.5L344.2 308.6L345.0 308.8L345.8 308.9L346.5 309.1L347.2 309.2L348.0 309.2L348.8 309.3L349.5 309.3L350.2 309.4L351.0 309.4L351.8 309.3L352.5 309.3L353.2 309.2L354.0 309.1L354.8 309.0L355.5 308.9L356.2 308.7L357.0 308.6L357.8 308.4L358.5 308.2L359.2 308.0L360.0 307.8L360.8 307.6L361.5 307.3L362.2 307.1L363.0 306.9L363.8 306.6L364.5 306.3L365.2 306.1L366.0 305.8L366.8 305.5L367.5 305.2L368.2 305.0L369.0 304.7L369.8 304.4L370.5 304.1L371.2 303.8L372.0 303.5L372.8 303.2L373.5 302.8L374.2 302.5L375.0 302.2L375.8 301.8L376.5 301.5L377.2 301.1L378.0 300.7L378.8 300.3L379.5 299.9L380.2 299.5L381.0 299.1L381.8 298.7L382.5 298.3L383.2 298.0L384.0 297.6L384.8 297.3L385.5 297.0L386.2 296.7L387.0 296.5L387.8 296.3L388.5 296.1L389.2 295.9L390.0 295.8L390.8 295.7L391.5 295.7L392.2 295.6L393.0 295.6L393.8 295.5L394.5 295.5L395.2 295.5L396.0 295.5L396.8 295.5L397.5 295.5L398.2 295.5L399.0 295.5L399.8 295.6L400.5 295.6L401.2 295.6L402.0 295.7L402.8 295.7L403.5 295.8L404.2 295.8L405.0 295.9L405.8 295.9L406.5 296.0L407.2 296.0L408.0 296.0L408.8 296.0L409.5 296.0L410.2 296.0L411.0 296.0L411.8 295.9L412.5 295.9L413.2 295.8L414.0 295.7L414.8 295.6L415.5 295.5L416.2 295.4L417.0 295.2L417.8 295.0L418.5 294.9L419.2 294.7L420.0 294.5L420.8 294.3L421.5 294.1L422.2 293.9L423.0 293.7L423.8 293.5L424.5 293.2L425.2 293.0L426.0 292.8L426.8 292.5L427.5 292.3L428.2 292.0L429.0 291.8L429.8 291.6L430.5 291.4L431.2 291.3L432.0 291.1L432.8 291.0L433.5 291.0L434.2 291.0L435.0 291.0L435.8 291.0L436.5 291.0L437.2 291.0L438.0 291.0L438.8 291.0L439.5 291.0L440.2 291.0L441.0 290.9L441.8 290.8L442.5 290.7L443.2 290.5L444.0 290.2L444.8 289.9L445.5 289.5L446.2 289.1L447.0 288.5L447.8 287.9L448.5 287.1L449.2 286.3L450.0 285.4L450.8 284.5L451.5 283.5L452.2 282.5L453.0 281.4L453.8 280.4L454.5 279.3L455.2 278.2L456.0 277.2L456.8 276.1L457.5 275.0L458.2 273.8L459.0 272.7L459.8 271.5L460.5 270.2L461.2 269.0L462.0 267.6L462.8 266.2L463.5 264.7L464.2 263.1L465.0 261.3L465.8 259.4L466.5 257.4L467.2 255.4L468.0 253.4L468.8 251.4L469.5 249.3L470.2 247.3L471.0 245.3L471.8 243.4L472.5 241.4L473.2 239.4L474.0 237.4L474.8 235.4L475.5 233.4L476.2 231.3L477.0 229.1L477.8 226.8L478.5 224.3L479.2 221.9L480.0 219.4L480.8 217.0L481.5 214.6L482.2 212.2L483.0 210.0L483.8 207.8L484.5 205.6L485.2 203.5L486.0 201.4L486.8 199.3L487.5 197.3L488.2 195.3L489.0 193.5L489.8 191.7L490.5 190.1L491.2 188.5L492.0 187.0L492.8 185.7L493.5 184.9L494.2 184.7L495.0 185.4L495.8 186.9L496.5 189.2L497.2 192.0L498.0 195.2L498.8 198.7L499.5 202.0L500.2 204.9L501.0 207.4L501.8 209.6L502.5 211.5L503.2 213.4L504.0 215.2L504.8 216.9L505.5 218.3L506.2 219.2L507.0 219.5L507.8 218.9L508.5 217.6L509.2 215.8L510.0 213.6L510.8 211.1L511.5 208.1L512.2 204.9L513.0 202.1L513.8 200.6L514.5 200.8L515.2 202.3L516.0 204.5L516.8 207.2L517.5 210.0L518.2 212.7L519.0 215.4L519.8 217.8L520.5 219.9L521.2 221.4L522.0 222.0L522.8 221.6L523.5 220.7L524.2 219.4L525.0 218.1L525.8 216.5L526.5 214.8L527.2 213.3L528.0 212.0L528.8 211.1L529.5 210.5L530.2 210.3L531.0 210.6L531.8 211.3L532.5 212.5L533.2 214.0L534.0 215.7L534.8 217.4L535.5 219.2L536.2 221.1L537.0 222.6L537.8 223.1L538.5 222.0L539.2 219.1L540.0 214.8L540.8 209.7L541.5 204.4L542.2 198.8L543.0 194.2L543.8 191.9L544.5 193.8L545.2 198.6L546.0 204.0L546.8 209.1L547.5 214.0L548.2 218.6L549.0 222.6L549.8 225.7L550.5 227.2L551.2 226.5L552.0 224.5L552.8 221.8L553.5 218.9L554.2 216.1L555.0 213.6L555.8 211.3L556.5 209.3L557.2 207.4L558.0 206.0L558.8 204.8L559.5 203.7L560.2 202.6L561.0 201.7L561.8 200.2L562.5 197.7L563.2 193.3L564.0 187.2L564.8 180.3L565.5 173.4L566.2 166.5L567.0 160.0L567.8 155.0L568.5 152.4L569.2 152.4L570.0 156.3L570.8 159.8L571.5 158.6L572.2 154.3L573.0 150.0L573.8 147.2L574.5 146.6L575.2 149.4L576.0 155.9L576.8 163.6L577.5 170.6L578.2 176.1L579.0 178.0L579.8 173.3L580.5 164.8L581.2 158.2L582.0 154.6L582.8 158.1L583.5 165.9L584.2 175.0L585.0 183.8L585.8 192.0L586.5 199.9L587.0 205.0L588.0 209.6L588.8 212.7L589.5 215.5L590.2 218.1L591.0 220.4L591.8 222.0L592.5 223.1L593.2 224.1L594.0 224.9L594.8 225.5L595.5 225.3L596.2 223.6L597.0 221.0L597.8 219.5L598.5 221.5L599.2 227.9L600.0 236.0L600.8 242.9L601.5 247.4L602.2 249.9L603.0 251.1L603.8 250.5L604.5 249.2L605.2 249.2L606.0 252.1L606.8 256.7L607.5 261.3L608.2 264.4L609.0 265.8L609.8 265.9L610.5 264.9L611.2 263.3L612.0 261.9L612.8 261.1L613.5 260.7L614.2 260.0L615.0 258.2L615.8 254.7L616.5 249.9L617.2 245.9L618.0 244.6L618.8 246.9L619.5 252.1L620.2 258.4L621.0 264.3L621.8 269.3L622.5 273.0L623.2 275.7L624.0 277.7L624.8 279.2L625.5 280.3L626.2 280.3L627.0 278.9L627.8 276.3L628.5 273.2L629.2 271.0L630.0 271.0L630.8 274.1L631.5 279.5L632.2 284.9L633.0 288.4L633.8 289.5L634.5 288.9L635.2 287.7L636.0 287.5L636.8 289.3L637.5 293.1L638.2 298.3L639.0 303.5L639.8 307.7L640.5 310.2L641.2 311.4L642.0 311.3L642.8 311.2L643.5 312.7L644.2 316.3L645.0 321.5L645.8 326.5L646.5 329.5L647.2 329.6L648.0 326.9L648.8 323.7L649.5 323.0L650.2 325.9L651.0 330.8L651.8 335.4L652.5 338.7L653.2 339.9L654.0 339.5L654.8 339.8L655.5 342.8L656.2 348.8L657.0 357.2L657.8 366.3L658.5 372.7L659.2 374.8L660.0 373.2L660.8 370.2L661.5 369.2L662.2 371.8L663.0 376.1L663.8 380.2L664.5 384.9L666.0 380.0L668.0 385.0L670.0 398.0L672.0 385.8L674.0 402.4L676.0 396.0L678.0 402.4L682.0 402.4L684.4 389.4L686.5 402.4L690.0 402.4L705.0 402.4L707.0 397.0L709.3 394.5L711.0 398.5L712.5 394.0L714.0 402.4L722.0 402.4" stroke="#dc00b4" stroke-width="1.05"/>
<path d="M108.0 280.2L108.8 280.2L109.5 280.2L110.2 280.3L111.0 280.3L111.8 280.3L112.5 280.3L113.2 280.4L114.0 280.4L114.8 280.4L115.5 280.4L116.2 280.5L117.0 280.5L117.8 280.5L118.5 280.5L119.2 280.6L120.0 280.6L120.8 280.6L121.5 280.6L122.2 280.7L123.0 280.7L123.8 280.7L124.5 280.7L125.2 280.7L126.0 280.8L126.8 280.8L127.5 280.8L128.2 280.8L129.0 280.9L129.8 280.9L130.5 280.9L131.2 280.9L132.0 281.0L132.8 281.0L133.5 281.0L134.2 281.0L135.0 281.0L135.8 281.1L136.5 281.1L137.2 281.1L138.0 281.1L138.8 281.2L139.5 281.2L140.2 281.2L141.0 281.2L141.8 281.3L142.5 281.3L143.2 281.3L144.0 281.3L144.8 281.3L145.5 281.4L146.2 281.4L147.0 281.4L147.8 281.4L148.5 281.5L149.2 281.5L150.0 281.5L150.8 281.5L151.5 281.6L152.2 281.6L153.0 281.6L153.8 281.6L154.5 281.6L155.2 281.7L156.0 281.7L156.8 281.7L157.5 281.7L158.2 281.8L159.0 281.8L159.8 281.8L160.5 281.8L161.2 281.9L162.0 281.9L162.8 281.9L163.5 281.9L164.2 281.9L165.0 282.0L165.8 282.0L166.5 282.0L167.2 282.0L168.0 282.1L168.8 282.1L169.5 282.1L170.2 282.1L171.0 282.1L171.8 282.2L172.5 282.2L173.2 282.2L174.0 282.2L174.8 282.3L175.5 282.3L176.2 282.3L177.0 282.3L177.8 282.4L178.5 282.4L179.2 282.4L180.0 282.4L180.8 282.4L181.5 282.5L182.2 282.5L183.0 282.5L183.8 282.5L184.5 282.6L185.2 282.6L186.0 282.6L186.8 282.6L187.5 282.6L188.2 282.7L189.0 282.7L189.8 282.7L190.5 282.7L191.2 282.7L192.0 282.8L192.8 282.8L193.5 282.8L194.2 282.8L195.0 282.8L195.8 282.9L196.5 282.9L197.2 282.9L198.0 282.9L198.8 282.9L199.5 283.0L200.2 283.0L201.0 283.0L201.8 283.0L202.5 283.0L203.2 283.1L204.0 283.1L204.8 283.1L205.5 283.1L206.2 283.1L207.0 283.1L207.8 283.2L208.5 283.2L209.2 283.2L210.0 283.2L210.8 283.2L211.5 283.2L212.2 283.2L213.0 283.3L213.8 283.3L214.5 283.3L215.2 283.3L216.0 283.3L216.8 283.3L217.5 283.3L218.2 283.4L219.0 283.4L219.8 283.4L220.5 283.4L221.2 283.4L222.0 283.4L222.8 283.4L223.5 283.4L224.2 283.4L225.0 283.4L225.8 283.4L226.5 283.4L227.2 283.4L228.0 283.4L228.8 283.4L229.5 283.4L230.2 283.4L231.0 283.4L231.8 283.4L232.5 283.4L233.2 283.4L234.0 283.4L234.8 283.4L235.5 283.4L236.2 283.4L237.0 283.4L237.8 283.4L238.5 283.4L239.2 283.4L240.0 283.4L240.8 283.4L241.5 283.4L242.2 283.4L243.0 283.4L243.8 283.4L244.5 283.4L245.2 283.4L246.0 283.4L246.8 283.4L247.5 283.4L248.2 283.4L249.0 283.4L249.8 283.4L250.5 283.4L251.2 283.4L252.0 283.4L252.8 283.4L253.5 283.4L254.2 283.4L255.0 283.4L255.8 283.4L256.5 283.4L257.2 283.4L258.0 283.5L258.8 283.5L259.5 283.5L260.2 283.5L261.0 283.5L261.8 283.5L262.5 283.5L263.2 283.6L264.0 283.6L264.8 283.6L265.5 283.6L266.2 283.7L267.0 283.7L267.8 283.7L268.5 283.8L269.2 283.8L270.0 283.8L270.8 283.9L271.5 283.9L272.2 284.0L273.0 284.0L273.8 284.1L274.5 284.2L275.2 284.2L276.0 284.3L276.8 284.4L277.5 284.5L278.2 284.6L279.0 284.7L279.8 284.8L280.5 285.0L281.2 285.1L282.0 285.2L282.8 285.4L283.5 285.5L284.2 285.7L285.0 285.8L285.8 286.0L286.5 286.1L287.2 286.3L288.0 286.5L288.8 286.7L289.5 286.9L290.2 287.1L291.0 287.3L291.8 287.5L292.5 287.7L293.2 288.0L294.0 288.2L294.8 288.5L295.5 288.8L296.2 289.0L297.0 289.3L297.8 289.5L298.5 289.8L299.2 290.1L300.0 290.4L300.8 290.6L301.5 290.9L302.2 291.2L303.0 291.4L303.8 291.7L304.5 292.0L305.2 292.3L306.0 292.5L306.8 292.8L307.5 293.1L308.2 293.3L309.0 293.6L309.8 293.9L310.5 294.1L311.2 294.4L312.0 294.6L312.8 294.9L313.5 295.1L314.2 295.4L315.0 295.6L315.8 295.9L316.5 296.1L317.2 296.3L318.0 296.5L318.8 296.8L319.5 297.0L320.2 297.2L321.0 297.4L321.8 297.6L322.5 297.8L323.2 298.0L324.0 298.2L324.8 298.4L325.5 298.6L326.2 298.8L327.0 299.0L327.8 299.2L328.5 299.4L329.2 299.6L330.0 299.8L330.8 300.0L331.5 300.2L332.2 300.3L333.0 300.5L333.8 300.7L334.5 300.9L335.2 301.0L336.0 301.2L336.8 301.4L337.5 301.6L338.2 301.7L339.0 301.9L339.8 302.1L340.5 302.2L341.2 302.3L342.0 302.5L342.8 302.6L343.5 302.7L344.2 302.8L345.0 302.8L345.8 302.9L346.5 302.9L347.2 302.9L348.0 302.9L348.8 302.8L349.5 302.7L350.2 302.6L351.0 302.5L351.8 302.3L352.5 302.2L353.2 302.0L354.0 301.8L354.8 301.6L355.5 301.4L356.2 301.2L357.0 301.0L357.8 300.8L358.5 300.6L359.2 300.4L360.0 300.2L360.8 299.9L361.5 299.6L362.2 299.4L363.0 299.1L363.8 298.8L364.5 298.4L365.2 298.1L366.0 297.7L366.8 297.2L367.5 296.8L368.2 296.3L369.0 295.8L369.8 295.3L370.5 294.8L371.2 294.2L372.0 293.6L372.8 293.0L373.5 292.4L374.2 291.7L375.0 291.0L375.8 290.3L376.5 289.6L377.2 288.9L378.0 288.2L378.8 287.6L379.5 287.0L380.2 286.4L381.0 285.9L381.8 285.4L382.5 285.0L383.2 284.5L384.0 284.1L384.8 283.7L385.5 283.4L386.2 283.0L387.0 282.7L387.8 282.5L388.5 282.3L389.2 282.2L390.0 282.2L390.8 282.3L391.5 282.4L392.2 282.6L393.0 282.8L393.8 283.2L394.5 283.5L395.2 284.0L396.0 284.4L396.8 284.8L397.5 285.3L398.2 285.7L399.0 286.2L399.8 286.7L400.5 287.2L401.2 287.7L402.0 288.2L402.8 288.8L403.5 289.3L404.2 289.9L405.0 290.4L405.8 291.0L406.5 291.5L407.2 292.1L408.0 292.6L408.8 293.1L409.5 293.6L410.2 294.1L411.0 294.5L411.8 294.9L412.5 295.1L413.2 295.3L414.0 295.4L414.8 295.5L415.5 295.5L416.2 295.5L417.0 295.4L417.8 295.4L418.5 295.2L419.2 295.1L420.0 295.0L420.8 294.8L421.5 294.5L422.2 294.2L423.0 293.8L423.8 293.3L424.5 292.7L425.2 291.9L426.0 291.1L426.8 290.1L427.5 289.1L428.2 288.0L429.0 286.9L429.8 285.8L430.5 284.7L431.2 283.7L432.0 282.7L432.8 281.6L433.5 280.6L434.2 279.7L435.0 278.7L435.8 277.9L436.5 277.1L437.2 276.5L438.0 276.0L438.8 275.6L439.5 275.2L440.2 274.9L441.0 274.6L441.8 274.4L442.5 274.2L443.2 273.9L444.0 273.7L444.8 273.5L445.5 273.3L446.2 273.0L447.0 272.8L447.8 272.5L448.5 272.3L449.2 272.0L450.0 271.8L450.8 271.5L451.5 271.2L452.2 270.9L453.0 270.6L453.8 270.2L454.5 269.7L455.2 269.1L456.0 268.4L456.8 267.6L457.5 266.7L458.2 265.6L459.0 264.4L459.8 262.9L460.5 261.3L461.2 259.6L462.0 257.7L462.8 255.7L463.5 253.6L464.2 251.5L465.0 249.3L465.8 247.1L466.5 244.8L467.2 242.4L468.0 240.0L468.8 237.5L469.5 235.0L470.2 232.6L471.0 230.2L471.8 228.1L472.5 226.2L473.2 224.7L474.0 223.7L474.8 223.8L475.5 224.8L476.2 226.1L477.0 227.4L477.8 228.1L478.5 227.8L479.2 226.9L480.0 225.6L480.8 223.8L481.5 221.7L482.2 219.1L483.0 216.4L483.8 213.6L484.5 210.8L485.2 207.9L486.0 205.0L486.8 202.1L487.5 199.2L488.2 196.4L489.0 193.7L489.8 191.2L490.5 189.2L491.2 187.8L492.0 187.1L492.8 187.1L493.5 187.7L494.2 189.0L495.0 190.7L495.8 192.7L496.5 195.0L497.2 197.4L498.0 199.9L498.8 202.2L499.5 204.5L500.2 206.7L501.0 208.7L501.8 210.5L502.5 212.1L503.2 213.4L504.0 214.3L504.8 214.8L505.5 214.8L506.2 214.6L507.0 214.0L507.8 213.1L508.5 212.0L509.2 210.7L510.0 209.5L510.8 208.3L511.5 207.4L512.2 206.5L513.0 205.9L513.8 205.5L514.5 205.6L515.2 206.3L516.0 207.3L516.8 208.6L517.5 210.1L518.2 211.5L519.0 213.0L519.8 214.4L520.5 215.7L521.2 216.9L522.0 218.0L522.8 218.8L523.5 219.2L524.2 219.2L525.0 218.6L525.8 217.8L526.5 216.7L527.2 215.6L528.0 214.2L528.8 212.7L529.5 211.2L530.2 209.9L531.0 209.0L531.8 208.7L532.5 208.8L533.2 209.4L534.0 210.3L534.8 211.5L535.5 213.0L536.2 214.9L537.0 216.9L537.8 218.9L538.5 220.9L539.2 222.5L540.0 223.8L540.8 224.2L541.5 223.5L542.2 220.9L543.0 216.6L543.8 211.3L544.5 206.0L545.2 201.0L546.0 197.4L546.8 197.6L547.5 201.2L548.2 206.3L549.0 211.4L549.8 216.5L550.5 221.2L551.2 225.3L552.0 228.4L552.8 229.9L553.5 229.0L554.2 226.1L555.0 222.4L555.8 218.3L556.5 214.5L557.2 210.9L558.0 207.6L558.8 204.8L559.5 202.7L560.2 201.7L561.0 201.0L561.8 199.7L562.5 197.1L563.2 193.1L564.0 188.0L564.8 181.8L565.5 173.9L566.2 166.2L567.0 160.6L567.8 157.8L568.5 158.0L569.2 162.6L570.0 168.6L570.8 169.5L571.5 165.3L572.2 159.7L573.0 155.0L573.8 151.9L574.5 152.0L575.2 157.0L576.0 165.0L576.8 172.2L577.5 177.9L578.2 181.6L579.0 182.0L579.8 177.1L580.5 168.4L581.2 160.0L582.0 154.8L582.8 153.6L583.5 160.0L584.2 169.8L585.0 180.0L585.8 189.1L586.5 197.6L587.2 205.4L587.5 208.0L588.5 212.8L589.2 215.9L590.0 218.4L590.8 220.2L591.5 221.4L592.2 222.3L593.0 223.4L593.8 225.1L594.5 227.3L595.2 229.8L596.0 231.5L596.8 231.9L597.5 230.6L598.2 228.9L599.0 229.0L599.8 232.9L600.5 240.0L601.2 247.9L602.0 254.4L602.8 258.5L603.5 259.1L604.2 256.4L605.0 252.5L605.8 250.0L606.5 249.7L607.2 251.6L608.0 255.0L608.8 259.7L609.5 265.2L610.2 270.2L611.0 273.6L611.8 274.4L612.5 272.5L613.2 268.7L614.0 264.4L614.8 261.3L615.5 260.5L616.2 262.6L617.0 267.1L617.8 272.9L618.5 278.8L619.2 284.1L620.0 288.6L620.8 292.4L621.5 295.4L622.2 297.5L623.0 298.2L623.8 297.5L624.5 295.5L625.2 292.6L626.0 289.2L626.8 286.2L627.5 284.8L628.2 286.3L629.0 291.7L629.8 300.3L630.5 308.9L631.2 312.5L632.0 308.3L632.8 298.6L633.5 289.4L634.2 285.2L635.0 287.3L635.8 293.4L636.5 300.2L637.2 304.8L638.0 305.6L638.8 303.4L639.5 300.9L640.2 300.8L641.0 304.8L641.8 311.3L642.5 317.6L643.2 321.8L644.0 323.3L644.8 323.4L645.5 323.9L646.2 325.7L647.0 328.1L647.8 329.1L648.5 328.2L649.2 327.1L650.0 328.2L650.8 333.1L651.5 340.7L652.2 348.5L653.0 353.0L653.8 352.5L654.5 349.7L655.2 349.9L656.0 356.7L656.8 369.5L657.5 383.1L658.2 390.8L659.0 389.5L659.8 382.6L660.5 376.2L661.2 374.7L662.0 377.3L662.8 379.8L663.5 379.5L664.2 379.9L665.0 384.8L666.0 384.0L668.0 390.0L670.0 401.0L672.0 392.0L674.0 402.4L692.0 402.4L694.6 396.0L696.5 402.4L722.0 402.4" stroke="#b400dc" stroke-width="1.05"/>
<path d="M108.0 291.5L108.8 291.5L109.5 291.5L110.2 291.5L111.0 291.5L111.8 291.4L112.5 291.4L113.2 291.4L114.0 291.4L114.8 291.4L115.5 291.4L116.2 291.4L117.0 291.4L117.8 291.4L118.5 291.4L119.2 291.3L120.0 291.3L120.8 291.3L121.5 291.3L122.2 291.3L123.0 291.3L123.8 291.3L124.5 291.3L125.2 291.3L126.0 291.3L126.8 291.3L127.5 291.3L128.2 291.3L129.0 291.2L129.8 291.2L130.5 291.2L131.2 291.2L132.0 291.2L132.8 291.2L133.5 291.2L134.2 291.2L135.0 291.2L135.8 291.2L136.5 291.2L137.2 291.2L138.0 291.2L138.8 291.2L139.5 291.2L140.2 291.2L141.0 291.2L141.8 291.2L142.5 291.2L143.2 291.2L144.0 291.2L144.8 291.2L145.5 291.2L146.2 291.2L147.0 291.2L147.8 291.2L148.5 291.2L149.2 291.2L150.0 291.2L150.8 291.2L151.5 291.2L152.2 291.2L153.0 291.2L153.8 291.2L154.5 291.2L155.2 291.2L156.0 291.2L156.8 291.2L157.5 291.2L158.2 291.2L159.0 291.3L159.8 291.3L160.5 291.3L161.2 291.3L162.0 291.3L162.8 291.3L163.5 291.3L164.2 291.3L165.0 291.3L165.8 291.3L166.5 291.3L167.2 291.3L168.0 291.4L168.8 291.4L169.5 291.4L170.2 291.4L171.0 291.4L171.8 291.4L172.5 291.4L173.2 291.4L174.0 291.5L174.8 291.5L175.5 291.5L176.2 291.5L177.0 291.5L177.8 291.5L178.5 291.6L179.2 291.6L180.0 291.6L180.8 291.6L181.5 291.6L182.2 291.7L183.0 291.7L183.8 291.7L184.5 291.7L185.2 291.7L186.0 291.8L186.8 291.8L187.5 291.8L188.2 291.8L189.0 291.9L189.8 291.9L190.5 291.9L191.2 291.9L192.0 292.0L192.8 292.0L193.5 292.0L194.2 292.1L195.0 292.1L195.8 292.1L196.5 292.2L197.2 292.2L198.0 292.2L198.8 292.3L199.5 292.3L200.2 292.3L201.0 292.4L201.8 292.4L202.5 292.4L203.2 292.5L204.0 292.5L204.8 292.5L205.5 292.6L206.2 292.6L207.0 292.7L207.8 292.7L208.5 292.7L209.2 292.8L210.0 292.8L210.8 292.9L211.5 292.9L212.2 292.9L213.0 293.0L213.8 293.0L214.5 293.1L215.2 293.1L216.0 293.2L216.8 293.2L217.5 293.3L218.2 293.3L219.0 293.3L219.8 293.4L220.5 293.4L221.2 293.5L222.0 293.5L222.8 293.6L223.5 293.7L224.2 293.7L225.0 293.8L225.8 293.8L226.5 293.9L227.2 293.9L228.0 294.0L228.8 294.1L229.5 294.1L230.2 294.2L231.0 294.2L231.8 294.3L232.5 294.4L233.2 294.4L234.0 294.5L234.8 294.6L235.5 294.6L236.2 294.7L237.0 294.8L237.8 294.9L238.5 294.9L239.2 295.0L240.0 295.1L240.8 295.2L241.5 295.3L242.2 295.3L243.0 295.4L243.8 295.5L244.5 295.6L245.2 295.7L246.0 295.8L246.8 295.9L247.5 296.0L248.2 296.1L249.0 296.2L249.8 296.3L250.5 296.4L251.2 296.5L252.0 296.6L252.8 296.7L253.5 296.8L254.2 296.9L255.0 297.0L255.8 297.2L256.5 297.3L257.2 297.4L258.0 297.5L258.8 297.7L259.5 297.8L260.2 297.9L261.0 298.0L261.8 298.1L262.5 298.3L263.2 298.4L264.0 298.5L264.8 298.6L265.5 298.7L266.2 298.8L267.0 298.9L267.8 299.0L268.5 299.1L269.2 299.2L270.0 299.3L270.8 299.4L271.5 299.4L272.2 299.5L273.0 299.6L273.8 299.7L274.5 299.8L275.2 299.8L276.0 299.9L276.8 300.0L277.5 300.0L278.2 300.1L279.0 300.1L279.8 300.2L280.5 300.2L281.2 300.3L282.0 300.3L282.8 300.3L283.5 300.4L284.2 300.4L285.0 300.4L285.8 300.4L286.5 300.4L287.2 300.4L288.0 300.4L288.8 300.5L289.5 300.4L290.2 300.4L291.0 300.4L291.8 300.4L292.5 300.4L293.2 300.4L294.0 300.4L294.8 300.4L295.5 300.3L296.2 300.3L297.0 300.3L297.8 300.2L298.5 300.2L299.2 300.2L300.0 300.1L300.8 300.1L301.5 300.1L302.2 300.0L303.0 300.0L303.8 299.9L304.5 299.9L305.2 299.8L306.0 299.8L306.8 299.7L307.5 299.7L308.2 299.6L309.0 299.6L309.8 299.5L310.5 299.5L311.2 299.4L312.0 299.3L312.8 299.3L313.5 299.2L314.2 299.1L315.0 299.0L315.8 299.0L316.5 298.9L317.2 298.8L318.0 298.7L318.8 298.5L319.5 298.4L320.2 298.3L321.0 298.1L321.8 298.0L322.5 297.8L323.2 297.7L324.0 297.5L324.8 297.4L325.5 297.2L326.2 297.1L327.0 297.0L327.8 296.9L328.5 296.8L329.2 296.7L330.0 296.6L330.8 296.6L331.5 296.5L332.2 296.5L333.0 296.5L333.8 296.4L334.5 296.4L335.2 296.4L336.0 296.4L336.8 296.4L337.5 296.4L338.2 296.4L339.0 296.4L339.8 296.5L340.5 296.5L341.2 296.6L342.0 296.6L342.8 296.7L343.5 296.8L344.2 296.9L345.0 297.0L345.8 297.1L346.5 297.2L347.2 297.4L348.0 297.6L348.8 297.8L349.5 298.0L350.2 298.2L351.0 298.4L351.8 298.6L352.5 298.9L353.2 299.1L354.0 299.3L354.8 299.5L355.5 299.8L356.2 300.0L357.0 300.1L357.8 300.3L358.5 300.5L359.2 300.7L360.0 300.8L360.8 300.9L361.5 301.1L362.2 301.2L363.0 301.3L363.8 301.4L364.5 301.5L365.2 301.6L366.0 301.7L366.8 301.8L367.5 301.8L368.2 301.9L369.0 301.9L369.8 301.9L370.5 301.8L371.2 301.7L372.0 301.6L372.8 301.5L373.5 301.3L374.2 301.0L375.0 300.7L375.8 300.4L376.5 300.1L377.2 299.8L378.0 299.4L378.8 299.0L379.5 298.6L380.2 298.2L381.0 297.8L381.8 297.3L382.5 296.9L383.2 296.4L384.0 296.0L384.8 295.6L385.5 295.1L386.2 294.8L387.0 294.4L387.8 294.1L388.5 293.9L389.2 293.7L390.0 293.6L390.8 293.6L391.5 293.6L392.2 293.7L393.0 293.9L393.8 294.3L394.5 294.9L395.2 295.7L396.0 296.7L396.8 297.7L397.5 298.9L398.2 300.1L399.0 301.4L399.8 302.7L400.5 304.0L401.2 305.3L402.0 306.6L402.8 308.0L403.5 309.3L404.2 310.6L405.0 311.9L405.8 313.2L406.5 314.4L407.2 315.6L408.0 316.8L408.8 317.9L409.5 319.0L410.2 320.1L411.0 321.1L411.8 322.1L412.5 323.0L413.2 323.9L414.0 324.8L414.8 325.6L415.5 326.3L416.2 327.0L417.0 327.6L417.8 328.2L418.5 328.7L419.2 329.1L420.0 329.5L420.8 329.9L421.5 330.2L422.2 330.5L423.0 330.7L423.8 330.9L424.5 331.0L425.2 331.0L426.0 331.0L426.8 330.9L427.5 330.8L428.2 330.5L429.0 330.2L429.8 329.9L430.5 329.4L431.2 328.9L432.0 328.3L432.8 327.6L433.5 326.9L434.2 326.1L435.0 325.1L435.8 324.0L436.5 322.9L437.2 321.6L438.0 320.2L438.8 318.6L439.5 317.0L440.2 315.3L441.0 313.3L441.8 311.2L442.5 308.9L443.2 306.5L444.0 303.9L444.8 301.1L445.5 298.1L446.2 294.9L447.0 291.3L447.8 287.1L448.5 282.7L449.2 278.2L450.0 273.6L450.8 269.0L451.5 264.5L452.2 260.1L453.0 255.9L453.8 252.4L454.5 250.2L455.2 249.6L456.0 250.8L456.8 253.1L457.5 256.0L458.2 259.2L459.0 262.4L459.8 265.6L460.5 268.3L461.2 270.7L462.0 272.7L462.8 274.5L463.5 276.0L464.2 277.2L465.0 277.9L465.8 278.1L466.5 277.6L467.2 276.4L468.0 274.7L468.8 272.7L469.5 270.5L470.2 268.3L471.0 265.9L471.8 263.2L472.5 260.2L473.2 256.8L474.0 253.2L474.8 249.4L475.5 245.5L476.2 241.5L477.0 237.4L477.8 233.4L478.5 229.3L479.2 225.3L480.0 221.4L480.8 217.9L481.5 215.2L482.2 213.8L483.0 213.9L483.8 214.7L484.5 216.0L485.2 217.5L486.0 219.2L486.8 220.8L487.5 222.1L488.2 222.8L489.0 222.1L489.8 220.0L490.5 216.7L491.2 212.5L492.0 207.2L492.8 201.4L493.5 195.3L494.2 189.5L495.0 184.1L495.8 179.6L496.5 178.3L497.2 180.9L498.0 185.5L498.8 190.9L499.5 196.3L500.2 201.5L501.0 206.4L501.8 210.8L502.5 214.5L503.2 217.3L504.0 219.3L504.8 220.5L505.5 221.0L506.2 220.9L507.0 220.0L507.8 218.4L508.5 216.0L509.2 213.0L510.0 209.7L510.8 206.1L511.5 202.4L512.2 198.7L513.0 194.8L513.8 191.3L514.5 189.4L515.2 190.2L516.0 193.4L516.8 197.8L517.5 202.1L518.2 206.4L519.0 210.7L519.8 214.8L520.5 218.5L521.2 221.8L522.0 224.4L522.8 226.2L523.5 227.0L524.2 226.8L525.0 225.7L525.8 223.8L526.5 221.3L527.2 218.4L528.0 215.0L528.8 210.9L529.5 206.3L530.2 201.7L531.0 198.1L531.8 196.1L532.5 196.5L533.2 198.8L534.0 202.5L534.8 207.1L535.5 212.0L536.2 217.3L537.0 222.9L537.8 228.0L538.5 231.7L539.2 233.2L540.0 232.2L540.8 229.4L541.5 225.5L542.2 221.5L543.0 218.0L543.8 215.1L544.5 212.7L545.2 211.5L546.0 212.0L546.8 214.6L547.5 218.7L548.2 223.5L549.0 228.0L549.8 232.0L550.5 235.5L551.2 238.2L552.0 240.0L552.8 239.9L553.5 237.5L554.2 233.1L555.0 226.9L555.8 219.2L556.5 209.6L557.2 199.3L558.0 190.0L558.8 182.1L559.5 177.1L560.2 177.9L561.0 182.1L561.8 187.9L562.5 194.9L563.2 200.2L564.0 195.8L564.8 184.2L565.5 171.8L566.2 160.2L567.0 150.4L567.8 144.3L568.5 148.2L569.2 158.0L570.0 165.0L570.8 165.9L571.5 163.4L572.2 157.4L573.0 146.5L573.8 138.9L574.5 142.7L575.2 152.9L576.0 165.0L576.8 176.4L577.5 186.4L578.2 193.7L579.0 197.0L579.8 191.0L580.5 179.6L581.2 174.4L582.0 176.1L582.8 182.2L583.0 185.0L584.0 194.4L584.8 200.4L585.5 205.3L586.2 209.0L587.0 211.3L587.8 212.8L588.5 214.3L589.2 216.7L590.0 219.8L590.8 223.3L591.5 226.5L592.2 228.8L593.0 230.0L593.8 230.3L594.5 230.2L595.2 230.5L596.0 231.2L596.8 232.1L597.5 232.8L598.2 232.9L599.0 232.4L599.8 231.1L600.5 229.8L601.2 229.9L602.0 232.1L602.8 236.3L603.5 241.0L604.2 245.1L605.0 249.4L605.8 255.1L606.5 261.4L607.2 266.7L608.0 269.2L608.8 268.9L609.5 266.8L610.2 264.2L611.0 262.5L611.8 262.6L612.5 264.5L613.2 267.7L614.0 270.9L614.8 273.2L615.5 273.9L616.2 273.3L617.0 272.2L617.8 271.5L618.5 272.1L619.2 274.3L620.0 278.2L620.8 283.1L621.5 288.0L622.2 291.0L623.0 290.4L623.8 286.1L624.5 279.8L625.2 274.3L626.0 271.5L626.8 271.9L627.5 274.7L628.2 277.0L629.0 277.0L629.8 274.8L630.5 272.3L631.2 271.6L632.0 273.1L632.8 276.3L633.5 280.3L634.2 284.8L635.0 289.9L635.8 295.8L636.5 302.1L637.2 307.5L638.0 311.3L638.8 314.3L639.5 317.1L640.2 320.0L641.0 322.7L641.8 324.7L642.5 326.1L643.2 327.3L644.0 327.7L644.8 326.6L645.5 324.5L646.2 323.5L647.0 325.4L647.8 330.1L648.5 335.9L649.2 340.1L650.0 341.2L650.8 339.6L651.5 337.9L652.2 339.5L653.0 345.2L653.8 352.4L654.5 358.0L655.2 360.6L656.0 361.3L656.8 362.6L657.5 366.4L658.2 371.3L659.0 374.7L659.8 375.9L660.5 376.9L661.2 381.4L662.0 390.0L662.8 398.5L663.5 401.8L664.2 400.0L665.0 397.7L665.8 399.1L666.5 407.3L667.2 416.5L668.0 422.6L668.8 423.5L669.5 422.8L670.2 425.9L671.0 434.7L671.8 445.4" stroke="#0000ff" stroke-width="1.05"/>
<path d="M108.0 285.8L108.8 286.0L109.5 286.1L110.2 286.3L111.0 286.5L111.8 286.6L112.5 286.8L113.2 287.0L114.0 287.1L114.8 287.3L115.5 287.5L116.2 287.6L117.0 287.8L117.8 288.0L118.5 288.1L119.2 288.3L120.0 288.4L120.8 288.6L121.5 288.7L122.2 288.9L123.0 289.0L123.8 289.2L124.5 289.3L125.2 289.5L126.0 289.6L126.8 289.8L127.5 289.9L128.2 290.1L129.0 290.2L129.8 290.3L130.5 290.5L131.2 290.6L132.0 290.7L132.8 290.8L133.5 291.0L134.2 291.1L135.0 291.2L135.8 291.3L136.5 291.4L137.2 291.5L138.0 291.6L138.8 291.7L139.5 291.8L140.2 292.0L141.0 292.1L141.8 292.2L142.5 292.3L143.2 292.4L144.0 292.5L144.8 292.6L145.5 292.7L146.2 292.8L147.0 292.8L147.8 292.9L148.5 293.0L149.2 293.1L150.0 293.2L150.8 293.3L151.5 293.4L152.2 293.5L153.0 293.6L153.8 293.7L154.5 293.8L155.2 293.9L156.0 294.0L156.8 294.1L157.5 294.2L158.2 294.3L159.0 294.4L159.8 294.5L160.5 294.6L161.2 294.7L162.0 294.8L162.8 294.9L163.5 295.0L164.2 295.1L165.0 295.2L165.8 295.4L166.5 295.5L167.2 295.6L168.0 295.7L168.8 295.8L169.5 295.9L170.2 296.0L171.0 296.1L171.8 296.3L172.5 296.4L173.2 296.5L174.0 296.6L174.8 296.7L175.5 296.8L176.2 297.0L177.0 297.1L177.8 297.2L178.5 297.3L179.2 297.4L180.0 297.5L180.8 297.7L181.5 297.8L182.2 297.9L183.0 298.0L183.8 298.1L184.5 298.3L185.2 298.4L186.0 298.5L186.8 298.6L187.5 298.8L188.2 298.9L189.0 299.0L189.8 299.1L190.5 299.2L191.2 299.4L192.0 299.5L192.8 299.6L193.5 299.7L194.2 299.9L195.0 300.0L195.8 300.1L196.5 300.2L197.2 300.3L198.0 300.5L198.8 300.6L199.5 300.7L200.2 300.8L201.0 301.0L201.8 301.1L202.5 301.2L203.2 301.3L204.0 301.4L204.8 301.6L205.5 301.7L206.2 301.8L207.0 301.9L207.8 302.0L208.5 302.1L209.2 302.2L210.0 302.3L210.8 302.4L211.5 302.5L212.2 302.6L213.0 302.7L213.8 302.8L214.5 302.8L215.2 302.9L216.0 303.0L216.8 303.1L217.5 303.1L218.2 303.2L219.0 303.3L219.8 303.3L220.5 303.4L221.2 303.4L222.0 303.5L222.8 303.5L223.5 303.6L224.2 303.6L225.0 303.7L225.8 303.8L226.5 303.8L227.2 303.9L228.0 303.9L228.8 304.0L229.5 304.1L230.2 304.1L231.0 304.2L231.8 304.2L232.5 304.3L233.2 304.4L234.0 304.4L234.8 304.5L235.5 304.5L236.2 304.6L237.0 304.7L237.8 304.7L238.5 304.8L239.2 304.8L240.0 304.9L240.8 304.9L241.5 305.0L242.2 305.0L243.0 305.1L243.8 305.1L244.5 305.1L245.2 305.2L246.0 305.2L246.8 305.2L247.5 305.2L248.2 305.2L249.0 305.2L249.8 305.2L250.5 305.2L251.2 305.2L252.0 305.2L252.8 305.2L253.5 305.1L254.2 305.1L255.0 305.1L255.8 305.0L256.5 305.0L257.2 304.9L258.0 304.9L258.8 304.8L259.5 304.8L260.2 304.7L261.0 304.6L261.8 304.6L262.5 304.5L263.2 304.4L264.0 304.3L264.8 304.2L265.5 304.2L266.2 304.1L267.0 304.0L267.8 303.9L268.5 303.8L269.2 303.7L270.0 303.6L270.8 303.5L271.5 303.4L272.2 303.3L273.0 303.1L273.8 303.0L274.5 302.9L275.2 302.8L276.0 302.7L276.8 302.6L277.5 302.4L278.2 302.3L279.0 302.2L279.8 302.1L280.5 301.9L281.2 301.8L282.0 301.7L282.8 301.5L283.5 301.4L284.2 301.2L285.0 301.1L285.8 301.0L286.5 300.8L287.2 300.7L288.0 300.5L288.8 300.3L289.5 300.2L290.2 300.0L291.0 299.9L291.8 299.7L292.5 299.6L293.2 299.4L294.0 299.3L294.8 299.1L295.5 299.0L296.2 298.8L297.0 298.7L297.8 298.5L298.5 298.4L299.2 298.2L300.0 298.1L300.8 298.0L301.5 297.8L302.2 297.7L303.0 297.6L303.8 297.5L304.5 297.4L305.2 297.3L306.0 297.2L306.8 297.1L307.5 297.1L308.2 297.0L309.0 297.0L309.8 297.0L310.5 297.0L311.2 297.0L312.0 297.1L312.8 297.1L313.5 297.2L314.2 297.4L315.0 297.5L315.8 297.6L316.5 297.8L317.2 297.9L318.0 298.1L318.8 298.3L319.5 298.4L320.2 298.6L321.0 298.8L321.8 299.0L322.5 299.2L323.2 299.4L324.0 299.7L324.8 299.9L325.5 300.2L326.2 300.4L327.0 300.7L327.8 301.1L328.5 301.4L329.2 301.8L330.0 302.1L330.8 302.5L331.5 302.9L332.2 303.3L333.0 303.6L333.8 304.0L334.5 304.4L335.2 304.8L336.0 305.2L336.8 305.6L337.5 305.9L338.2 306.3L339.0 306.7L339.8 307.0L340.5 307.4L341.2 307.7L342.0 308.1L342.8 308.4L343.5 308.7L344.2 309.0L345.0 309.4L345.8 309.7L346.5 310.0L347.2 310.3L348.0 310.6L348.8 310.8L349.5 311.1L350.2 311.4L351.0 311.6L351.8 311.8L352.5 312.1L353.2 312.3L354.0 312.5L354.8 312.6L355.5 312.8L356.2 313.0L357.0 313.1L357.8 313.2L358.5 313.3L359.2 313.4L360.0 313.5L360.8 313.6L361.5 313.6L362.2 313.7L363.0 313.7L363.8 313.7L364.5 313.7L365.2 313.7L366.0 313.7L366.8 313.6L367.5 313.6L368.2 313.5L369.0 313.4L369.8 313.3L370.5 313.2L371.2 313.1L372.0 313.0L372.8 312.8L373.5 312.6L374.2 312.4L375.0 312.2L375.8 312.0L376.5 311.7L377.2 311.4L378.0 311.2L378.8 310.8L379.5 310.5L380.2 310.2L381.0 309.8L381.8 309.4L382.5 309.0L383.2 308.6L384.0 308.2L384.8 307.7L385.5 307.3L386.2 306.9L387.0 306.4L387.8 306.0L388.5 305.6L389.2 305.2L390.0 304.8L390.8 304.5L391.5 304.1L392.2 303.7L393.0 303.4L393.8 303.1L394.5 302.8L395.2 302.5L396.0 302.2L396.8 302.0L397.5 301.7L398.2 301.5L399.0 301.4L399.8 301.2L400.5 301.1L401.2 301.0L402.0 300.9L402.8 300.9L403.5 300.8L404.2 300.8L405.0 300.8L405.8 300.8L406.5 300.8L407.2 300.8L408.0 300.9L408.8 301.0L409.5 301.0L410.2 301.1L411.0 301.2L411.8 301.3L412.5 301.4L413.2 301.5L414.0 301.5L414.8 301.6L415.5 301.6L416.2 301.6L417.0 301.6L417.8 301.6L418.5 301.5L419.2 301.4L420.0 301.2L420.8 301.0L421.5 300.8L422.2 300.6L423.0 300.3L423.8 300.0L424.5 299.7L425.2 299.3L426.0 298.9L426.8 298.4L427.5 298.0L428.2 297.4L429.0 296.9L429.8 296.4L430.5 295.8L431.2 295.2L432.0 294.5L432.8 293.9L433.5 293.2L434.2 292.5L435.0 291.8L435.8 291.1L436.5 290.3L437.2 289.5L438.0 288.7L438.8 287.9L439.5 287.2L440.2 286.4L441.0 285.6L441.8 284.9L442.5 284.3L443.2 283.6L444.0 283.0L444.8 282.5L445.5 282.0L446.2 281.5L447.0 281.0L447.8 280.5L448.5 280.0L449.2 279.5L450.0 279.0L450.8 278.4L451.5 277.9L452.2 277.3L453.0 276.7L453.8 276.0L454.5 275.4L455.2 274.7L456.0 274.0L456.8 273.2L457.5 272.5L458.2 271.7L459.0 270.9L459.8 270.0L460.5 269.1L461.2 268.2L462.0 267.2L462.8 266.2L463.5 265.1L464.2 264.1L465.0 263.0L465.8 261.8L466.5 260.6L467.2 259.3L468.0 258.0L468.8 256.5L469.5 255.0L470.2 253.3L471.0 251.7L471.8 250.0L472.5 248.3L473.2 246.7L474.0 245.2L474.8 243.8L475.5 242.4L476.2 241.1L477.0 239.8L477.8 238.5L478.5 237.0L479.2 235.5L480.0 233.8L480.8 231.8L481.5 229.7L482.2 227.2L483.0 224.6L483.8 221.8L484.5 219.1L485.2 216.3L486.0 213.7L486.8 211.2L487.5 208.7L488.2 206.3L489.0 203.9L489.8 201.6L490.5 199.2L491.2 196.9L492.0 194.7L492.8 192.8L493.5 191.1L494.2 189.9L495.0 189.3L495.8 189.2L496.5 189.5L497.2 190.1L498.0 191.1L498.8 192.4L499.5 194.0L500.2 195.9L501.0 198.2L501.8 200.6L502.5 203.0L503.2 205.1L504.0 206.9L504.8 208.5L505.5 209.9L506.2 211.0L507.0 211.9L507.8 212.6L508.5 213.1L509.2 213.3L510.0 213.4L510.8 213.3L511.5 212.8L512.2 212.1L513.0 211.4L513.8 210.6L514.5 210.0L515.2 209.6L516.0 209.7L516.8 210.1L517.5 210.7L518.2 211.4L519.0 212.1L519.8 212.8L520.5 213.6L521.2 214.2L522.0 214.8L522.8 215.2L523.5 215.6L524.2 215.9L525.0 216.0L525.8 216.0L526.5 215.9L527.2 215.4L528.0 214.8L528.8 214.2L529.5 213.9L530.2 214.1L531.0 214.5L531.8 215.0L532.5 215.6L533.2 216.3L534.0 217.0L534.8 217.8L535.5 218.5L536.2 219.2L537.0 219.7L537.8 220.0L538.5 219.8L539.2 218.7L540.0 217.2L540.8 215.5L541.5 213.9L542.2 213.0L543.0 213.0L543.8 213.8L544.5 214.9L545.2 216.3L546.0 217.9L546.8 219.5L547.5 221.1L548.2 222.6L549.0 223.9L549.8 224.8L550.5 225.1L551.2 224.5L552.0 223.1L552.8 221.3L553.5 219.3L554.2 217.4L555.0 215.5L555.8 213.6L556.5 211.8L557.2 210.0L558.0 208.3L558.8 206.6L559.5 204.9L560.2 203.2L561.0 201.2L561.8 198.9L562.5 195.8L563.2 191.3L564.0 186.0L564.8 180.2L565.5 174.0L566.2 168.1L567.0 163.2L567.8 160.8L568.5 161.9L569.2 164.7L570.0 167.0L570.8 167.6L571.5 167.1L572.2 165.1L573.0 160.9L573.8 158.0L574.5 159.5L575.2 163.6L576.0 168.0L576.8 171.5L577.5 174.3L578.2 176.7L579.0 177.6L579.8 176.6L580.5 172.0L581.2 168.4L582.0 171.8L582.8 179.5L583.5 186.5L584.2 192.6L585.0 198.0L585.8 203.1L586.5 207.6L587.2 211.0L588.0 213.7L588.8 216.2L589.5 218.7L590.2 221.4L591.0 224.0L591.8 226.3L592.5 228.1L593.2 229.5L594.0 230.7L594.8 231.7L595.5 232.5L596.2 233.1L597.0 233.9L597.8 235.3L598.5 237.9L599.2 241.9L600.0 246.0L600.8 249.7L601.5 253.0L602.2 255.5L603.0 257.0L603.8 256.4L604.5 254.3L605.2 252.8L606.0 253.9L606.8 256.8L607.5 260.1L608.2 262.8L609.0 264.8L609.8 266.4L610.5 267.5L611.2 268.2L612.0 268.5L612.8 268.6L613.5 268.7L614.2 268.8L615.0 269.0L615.8 269.4L616.5 269.9L617.2 270.5L618.0 271.4L618.8 272.6L619.5 274.1L620.2 276.1L621.0 278.1L621.8 279.7L622.5 280.2L623.2 279.7L624.0 279.0L624.8 278.8L625.5 279.8L626.2 281.5L627.0 283.4L627.8 285.4L628.5 287.1L629.2 288.6L630.0 289.8L630.8 290.8L631.5 291.3L632.2 291.3L633.0 291.3L633.8 291.7L634.5 292.9L635.2 294.5L636.0 296.4L636.8 298.4L637.5 300.3L638.2 302.1L639.0 304.2L639.8 306.6L640.5 309.7L641.2 313.5L642.0 317.0L642.8 319.7L643.5 322.0L644.2 323.9L645.0 325.6L645.8 327.1L646.5 328.3L647.2 329.2L648.0 329.6L648.8 330.4L649.5 332.8L650.2 336.6L651.0 340.6L651.8 343.8L652.5 346.5L653.2 348.7L654.0 350.3L654.8 352.7L655.5 356.3L656.2 360.5L657.0 365.0L657.8 369.3L658.5 372.3L659.2 374.1L660.0 375.2L660.8 376.2L661.5 378.0L662.2 380.2L663.0 381.3L663.8 381.4L664.5 384.1L665.2 389.6L666.0 395.6L666.8 405.4L667.0 410.0" stroke="#000" stroke-width="2.1"/>
</g>
<text x="413.8" y="28.1" font-size="35.85" text-anchor="middle" id="title">MEM Spectrum of recent hour</text>
<text x="414.5" y="484.7" font-size="32" text-anchor="middle" id="xlab">Freq [mHz]</text>
<text transform="translate(25,221.5) rotate(-90)" font-size="32" text-anchor="middle" id="ylab">Power [dB]</text>
<text x="79.2" y="51.2" font-size="24" text-anchor="end" class="yt">60</text>
<text x="79.2" y="141.2" font-size="24" text-anchor="end" class="yt">40</text>
<text x="79.2" y="231.2" font-size="24" text-anchor="end" class="yt">20</text>
<text x="79.2" y="321.2" font-size="24" text-anchor="end" class="yt">0</text>
<text x="78.5" y="411.2" font-size="24" text-anchor="end" class="yt"><tspan dy="2.3" dx="1">−</tspan><tspan dy="-2.3" dx="-0.5">20</tspan></text>
<path transform="translate(272.63,447.20) scale(0.02400,-0.02400)" d="M373 0L285 0L285 508L102 508L102 574Q290 580 316 709L373 709Z" fill="#000" stroke="#000" stroke-width="12"/>
<text x="285.99" y="447.4" font-size="24" class="xt">0</text>
<path transform="translate(521.17,447.20) scale(0.02400,-0.02400)" d="M373 0L285 0L285 508L102 508L102 574Q290 580 316 709L373 709Z" fill="#000" stroke="#000" stroke-width="12"/>
<text x="534.53" y="447.4" font-size="24" class="xt">00</text>
<text x="122.5" y="387.8" font-size="24" id="start">Start 20</text>
<path transform="translate(205.20,387.70) scale(0.02400,-0.02400)" d="M373 0L285 0L285 508L102 508L102 574Q290 580 316 709L373 709Z" fill="#000" stroke="#000" stroke-width="12"/>
<text x="219.9" y="387.8" font-size="24" id="start2">0<tspan dy="2.3">−</tspan><tspan dy="-2.3">09</tspan><tspan dy="2.3">−</tspan><tspan dy="-2.3">26 00:00:00</tspan></text>
</svg>
</body></html>
